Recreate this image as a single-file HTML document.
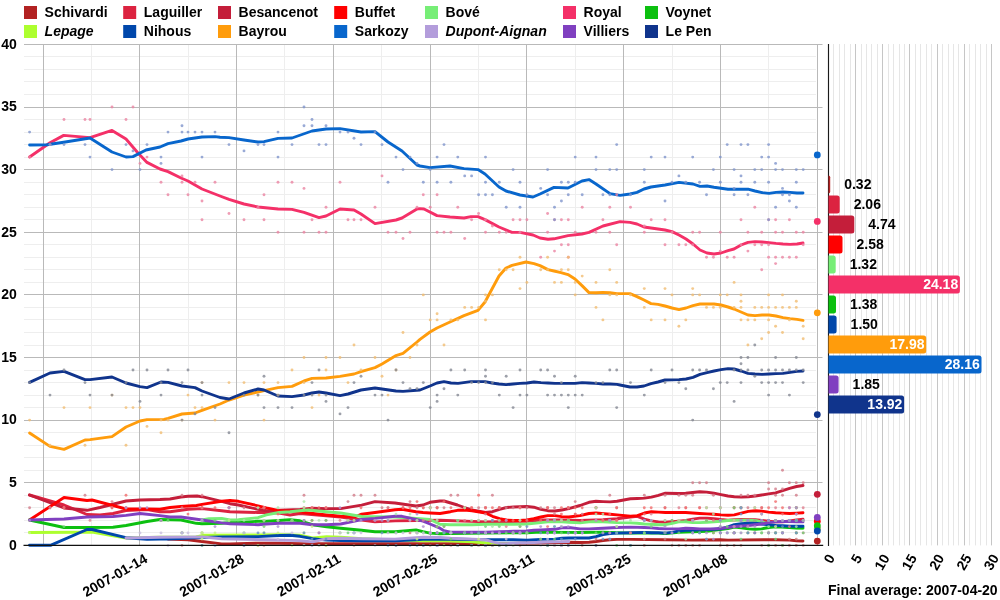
<!DOCTYPE html>
<html lang="en"><head><meta charset="utf-8"><title>Opinion polling for the 2007 French presidential election</title>
<style>html,body{margin:0;padding:0;background:#fff}body{width:1000px;height:600px;overflow:hidden}svg{display:block;will-change:transform}text{font-family:"Liberation Sans", Arial, Helvetica, sans-serif;font-weight:bold;font-size:14px;fill:#000}.gM{stroke:#b9b9b9;stroke-width:1}.gm{stroke:#eeeeee;stroke-width:1}.ln{fill:none;stroke-width:2.9;stroke-linejoin:round;stroke-linecap:round}.lg{font-size:14px}.it{font-style:italic}.w{fill:#fff}</style></head><body>
<svg width="1000" height="600" viewBox="0 0 1000 600">
<rect width="1000" height="600" fill="#fff"/>
<g id="legend">
<rect x="24.0" y="6.0" width="13" height="13" fill="#b22222"/>
<text class="lg" x="44.6" y="16.6">Schivardi</text>
<rect x="123.2" y="6.0" width="13" height="13" fill="#dc2340"/>
<text class="lg" x="143.8" y="16.6">Laguiller</text>
<rect x="218.0" y="6.0" width="13" height="13" fill="#c41e3a"/>
<text class="lg" x="238.6" y="16.6">Besancenot</text>
<rect x="334.2" y="6.0" width="13" height="13" fill="#ff0000"/>
<text class="lg" x="354.8" y="16.6">Buffet</text>
<rect x="425.0" y="6.0" width="13" height="13" fill="#77ee77"/>
<text class="lg" x="445.6" y="16.6">Bové</text>
<rect x="563.0" y="6.0" width="13" height="13" fill="#f43068"/>
<text class="lg" x="583.6" y="16.6">Royal</text>
<rect x="645.0" y="6.0" width="13" height="13" fill="#0cc010"/>
<text class="lg" x="665.6" y="16.6">Voynet</text>
<rect x="24.0" y="25.0" width="13" height="13" fill="#adff2f"/>
<text class="lg it" x="44.6" y="35.6">Lepage</text>
<rect x="123.2" y="25.0" width="13" height="13" fill="#0047ab"/>
<text class="lg" x="143.8" y="35.6">Nihous</text>
<rect x="218.0" y="25.0" width="13" height="13" fill="#ff9c0c"/>
<text class="lg" x="238.6" y="35.6">Bayrou</text>
<rect x="334.2" y="25.0" width="13" height="13" fill="#0866cc"/>
<text class="lg" x="354.8" y="35.6">Sarkozy</text>
<rect x="425.0" y="25.0" width="13" height="13" fill="#b39ddb"/>
<text class="lg it" x="445.6" y="35.6">Dupont-Aignan</text>
<rect x="563.0" y="25.0" width="13" height="13" fill="#8040c0"/>
<text class="lg" x="583.6" y="35.6">Villiers</text>
<rect x="645.0" y="25.0" width="13" height="13" fill="#10348c"/>
<text class="lg" x="665.6" y="35.6">Le Pen</text>
</g>
<g id="grid">
<line class="gm" x1="24" x2="816" y1="532.5" y2="532.5"/>
<line class="gm" x1="24" x2="816" y1="520.5" y2="520.5"/>
<line class="gm" x1="24" x2="816" y1="507.5" y2="507.5"/>
<line class="gm" x1="24" x2="816" y1="495.5" y2="495.5"/>
<line class="gm" x1="24" x2="816" y1="470.5" y2="470.5"/>
<line class="gm" x1="24" x2="816" y1="457.5" y2="457.5"/>
<line class="gm" x1="24" x2="816" y1="445.5" y2="445.5"/>
<line class="gm" x1="24" x2="816" y1="432.5" y2="432.5"/>
<line class="gm" x1="24" x2="816" y1="407.5" y2="407.5"/>
<line class="gm" x1="24" x2="816" y1="395.5" y2="395.5"/>
<line class="gm" x1="24" x2="816" y1="382.5" y2="382.5"/>
<line class="gm" x1="24" x2="816" y1="370.5" y2="370.5"/>
<line class="gm" x1="24" x2="816" y1="345.5" y2="345.5"/>
<line class="gm" x1="24" x2="816" y1="332.5" y2="332.5"/>
<line class="gm" x1="24" x2="816" y1="319.5" y2="319.5"/>
<line class="gm" x1="24" x2="816" y1="307.5" y2="307.5"/>
<line class="gm" x1="24" x2="816" y1="282.5" y2="282.5"/>
<line class="gm" x1="24" x2="816" y1="269.5" y2="269.5"/>
<line class="gm" x1="24" x2="816" y1="257.5" y2="257.5"/>
<line class="gm" x1="24" x2="816" y1="244.5" y2="244.5"/>
<line class="gm" x1="24" x2="816" y1="219.5" y2="219.5"/>
<line class="gm" x1="24" x2="816" y1="207.5" y2="207.5"/>
<line class="gm" x1="24" x2="816" y1="194.5" y2="194.5"/>
<line class="gm" x1="24" x2="816" y1="182.5" y2="182.5"/>
<line class="gm" x1="24" x2="816" y1="157.5" y2="157.5"/>
<line class="gm" x1="24" x2="816" y1="144.5" y2="144.5"/>
<line class="gm" x1="24" x2="816" y1="132.5" y2="132.5"/>
<line class="gm" x1="24" x2="816" y1="119.5" y2="119.5"/>
<line class="gm" x1="24" x2="816" y1="94.5" y2="94.5"/>
<line class="gm" x1="24" x2="816" y1="81.5" y2="81.5"/>
<line class="gm" x1="24" x2="816" y1="69.5" y2="69.5"/>
<line class="gm" x1="24" x2="816" y1="56.5" y2="56.5"/>
<line class="gm" x1="91.5" x2="91.5" y1="44" y2="545.4"/>
<line class="gm" x1="188.5" x2="188.5" y1="44" y2="545.4"/>
<line class="gm" x1="284.5" x2="284.5" y1="44" y2="545.4"/>
<line class="gm" x1="381.5" x2="381.5" y1="44" y2="545.4"/>
<line class="gm" x1="478.5" x2="478.5" y1="44" y2="545.4"/>
<line class="gm" x1="575.5" x2="575.5" y1="44" y2="545.4"/>
<line class="gm" x1="672.5" x2="672.5" y1="44" y2="545.4"/>
<line class="gm" x1="768.5" x2="768.5" y1="44" y2="545.4"/>
<line class="gM" x1="24" x2="822.5" y1="482.5" y2="482.5"/>
<line class="gM" x1="24" x2="822.5" y1="420.5" y2="420.5"/>
<line class="gM" x1="24" x2="822.5" y1="357.5" y2="357.5"/>
<line class="gM" x1="24" x2="822.5" y1="294.5" y2="294.5"/>
<line class="gM" x1="24" x2="822.5" y1="232.5" y2="232.5"/>
<line class="gM" x1="24" x2="822.5" y1="169.5" y2="169.5"/>
<line class="gM" x1="24" x2="822.5" y1="107.5" y2="107.5"/>
<line class="gM" x1="24" x2="822.5" y1="44.5" y2="44.5"/>
<line class="gM" x1="43.5" x2="43.5" y1="44" y2="545.4"/>
<line class="gM" x1="139.5" x2="139.5" y1="44" y2="545.4"/>
<line class="gM" x1="236.5" x2="236.5" y1="44" y2="545.4"/>
<line class="gM" x1="333.5" x2="333.5" y1="44" y2="545.4"/>
<line class="gM" x1="430.5" x2="430.5" y1="44" y2="545.4"/>
<line class="gM" x1="526.5" x2="526.5" y1="44" y2="545.4"/>
<line class="gM" x1="623.5" x2="623.5" y1="44" y2="545.4"/>
<line class="gM" x1="720.5" x2="720.5" y1="44" y2="545.4"/>
<line class="gM" x1="817.5" x2="817.5" y1="44" y2="545.4"/>
</g>
<g id="rgrid">
<line class="gm" x1="833.5" x2="833.5" y1="44" y2="545.4" style="stroke:#e6e6e6"/>
<line class="gm" x1="839.5" x2="839.5" y1="44" y2="545.4" style="stroke:#e6e6e6"/>
<line class="gm" x1="844.5" x2="844.5" y1="44" y2="545.4" style="stroke:#e6e6e6"/>
<line class="gm" x1="850.5" x2="850.5" y1="44" y2="545.4" style="stroke:#e6e6e6"/>
<line class="gm" x1="861.5" x2="861.5" y1="44" y2="545.4" style="stroke:#e6e6e6"/>
<line class="gm" x1="866.5" x2="866.5" y1="44" y2="545.4" style="stroke:#e6e6e6"/>
<line class="gm" x1="871.5" x2="871.5" y1="44" y2="545.4" style="stroke:#e6e6e6"/>
<line class="gm" x1="877.5" x2="877.5" y1="44" y2="545.4" style="stroke:#e6e6e6"/>
<line class="gm" x1="888.5" x2="888.5" y1="44" y2="545.4" style="stroke:#e6e6e6"/>
<line class="gm" x1="893.5" x2="893.5" y1="44" y2="545.4" style="stroke:#e6e6e6"/>
<line class="gm" x1="899.5" x2="899.5" y1="44" y2="545.4" style="stroke:#e6e6e6"/>
<line class="gm" x1="904.5" x2="904.5" y1="44" y2="545.4" style="stroke:#e6e6e6"/>
<line class="gm" x1="915.5" x2="915.5" y1="44" y2="545.4" style="stroke:#e6e6e6"/>
<line class="gm" x1="920.5" x2="920.5" y1="44" y2="545.4" style="stroke:#e6e6e6"/>
<line class="gm" x1="926.5" x2="926.5" y1="44" y2="545.4" style="stroke:#e6e6e6"/>
<line class="gm" x1="931.5" x2="931.5" y1="44" y2="545.4" style="stroke:#e6e6e6"/>
<line class="gm" x1="942.5" x2="942.5" y1="44" y2="545.4" style="stroke:#e6e6e6"/>
<line class="gm" x1="948.5" x2="948.5" y1="44" y2="545.4" style="stroke:#e6e6e6"/>
<line class="gm" x1="953.5" x2="953.5" y1="44" y2="545.4" style="stroke:#e6e6e6"/>
<line class="gm" x1="958.5" x2="958.5" y1="44" y2="545.4" style="stroke:#e6e6e6"/>
<line class="gm" x1="969.5" x2="969.5" y1="44" y2="545.4" style="stroke:#e6e6e6"/>
<line class="gm" x1="975.5" x2="975.5" y1="44" y2="545.4" style="stroke:#e6e6e6"/>
<line class="gm" x1="980.5" x2="980.5" y1="44" y2="545.4" style="stroke:#e6e6e6"/>
<line class="gm" x1="986.5" x2="986.5" y1="44" y2="545.4" style="stroke:#e6e6e6"/>
<line class="gM" x1="855.5" x2="855.5" y1="44" y2="545.4" style="stroke:#c6c6c6"/>
<line class="gM" x1="882.5" x2="882.5" y1="44" y2="545.4" style="stroke:#c6c6c6"/>
<line class="gM" x1="909.5" x2="909.5" y1="44" y2="545.4" style="stroke:#c6c6c6"/>
<line class="gM" x1="937.5" x2="937.5" y1="44" y2="545.4" style="stroke:#c6c6c6"/>
<line class="gM" x1="964.5" x2="964.5" y1="44" y2="545.4" style="stroke:#c6c6c6"/>
<line class="gM" x1="991.5" x2="991.5" y1="44" y2="545.4" style="stroke:#c6c6c6"/>
</g>
<g id="lines">
<path class="ln" stroke="#b22222" d="M168.0 539.0 L188.0 539.7 L202.0 541.5 L221.6 543.9 L230.0 544.0 L238.4 543.6 L258.0 543.2 L279.0 543.2 L300.0 543.6 L440.0 543.6 L485.5 543.6 L540.0 543.0 L568.8 542.3 L580.0 542.5 L589.0 542.2 L596.0 541.5 L603.0 540.5 L610.0 539.7 L617.0 539.4 L630.4 539.4 L665.4 539.7 L692.7 540.1 L720.0 539.7 L728.0 540.1 L775.6 539.7 L789.6 540.1 L796.6 540.8 L803.0 541.0"/>
<path class="ln" stroke="#dc2340" d="M29.5 495.0 L64.0 505.0 L87.0 514.5 L100.0 515.0 L113.0 513.5 L126.0 510.5 L147.0 509.5 L160.0 511.7 L170.0 511.7 L181.0 510.3 L188.0 509.3 L202.0 508.6 L221.6 510.7 L230.0 511.7 L238.4 512.0 L258.0 512.5 L266.4 512.5 L279.0 513.0 L290.0 515.0 L300.0 513.5 L340.6 517.0 L361.6 520.0 L375.0 521.9 L395.0 520.9 L416.0 520.5 L423.0 520.5 L440.0 520.2 L485.5 521.9 L526.8 521.2 L540.8 520.0 L561.8 520.0 L580.0 520.5 L603.0 519.8 L610.0 519.1 L617.0 518.7 L630.4 517.0 L637.4 516.3 L644.4 519.1 L651.4 520.9 L658.4 521.9 L665.4 522.3 L678.7 521.2 L685.7 520.5 L692.7 519.1 L699.7 518.1 L707.0 518.1 L714.0 518.7 L721.0 519.5 L728.0 520.1 L734.3 519.8 L741.3 519.5 L755.3 519.8 L761.6 520.5 L768.6 521.2 L775.6 521.9 L782.6 521.9 L789.6 521.0 L796.6 520.0 L803.0 519.2"/>
<path class="ln" stroke="#c41e3a" d="M29.5 495.0 L64.0 508.0 L87.0 510.3 L100.0 507.5 L126.0 501.0 L140.0 500.0 L160.0 499.5 L170.0 499.0 L181.0 497.0 L188.0 496.3 L197.0 496.0 L202.0 496.7 L221.6 501.3 L230.0 503.7 L238.4 505.0 L258.0 509.3 L266.4 510.7 L300.0 509.5 L312.6 508.3 L326.6 508.6 L340.6 508.6 L361.6 505.1 L375.0 501.6 L395.0 503.0 L416.0 506.0 L423.0 505.0 L430.0 502.3 L440.0 501.0 L444.0 501.0 L457.5 505.0 L464.5 507.5 L472.0 510.0 L485.5 512.5 L492.5 511.7 L499.5 509.3 L506.5 507.5 L513.5 507.0 L526.8 506.5 L533.8 507.2 L540.8 509.3 L547.8 510.7 L554.8 511.0 L561.8 510.0 L568.8 508.6 L580.0 505.5 L589.0 502.3 L596.0 501.3 L603.0 501.6 L610.0 501.9 L617.0 501.3 L630.4 498.8 L637.4 498.5 L644.4 498.1 L651.4 497.1 L658.4 495.3 L665.4 493.2 L678.7 493.5 L685.7 493.2 L692.7 492.5 L699.7 491.8 L706.7 492.1 L714.0 493.2 L721.0 494.6 L728.0 496.0 L734.3 496.7 L741.3 497.1 L748.3 496.7 L755.3 496.0 L761.6 495.0 L768.6 493.9 L775.6 492.9 L782.6 490.7 L789.6 488.3 L796.6 486.5 L803.0 485.5"/>
<path class="ln" stroke="#ff0000" d="M29.5 520.0 L64.0 497.5 L87.0 500.5 L92.0 500.0 L126.0 509.0 L147.0 509.0 L160.0 509.3 L170.0 507.5 L181.0 506.5 L196.4 505.5 L202.0 504.4 L221.6 501.3 L230.0 500.5 L238.4 501.3 L258.0 505.8 L266.4 507.9 L279.0 510.7 L290.0 511.0 L300.0 511.7 L308.4 513.0 L326.6 515.0 L340.6 516.3 L356.0 516.5 L361.6 514.2 L375.0 512.5 L395.0 509.7 L402.0 509.3 L416.0 511.7 L423.0 512.5 L430.0 513.0 L440.0 513.5 L450.5 511.7 L457.5 510.3 L464.5 510.0 L472.0 510.7 L485.5 513.0 L492.5 516.3 L499.5 518.7 L506.5 520.0 L513.5 520.5 L519.8 520.5 L526.8 520.0 L533.8 518.7 L540.8 517.0 L547.8 515.6 L554.8 515.6 L561.8 516.6 L568.8 517.0 L580.0 515.6 L589.0 513.5 L596.0 513.0 L610.0 514.2 L617.0 514.9 L630.4 516.3 L637.4 515.6 L644.4 513.0 L651.4 511.7 L658.4 512.1 L665.4 512.5 L678.7 512.5 L685.7 512.5 L692.7 513.0 L699.7 513.5 L707.0 513.9 L714.0 514.2 L721.0 514.9 L728.0 515.3 L734.3 514.9 L741.3 513.1 L748.3 511.4 L755.3 510.7 L761.6 511.1 L768.6 512.1 L775.6 512.8 L782.6 513.1 L789.6 513.5 L796.6 513.1 L803.0 512.8"/>
<path class="ln" stroke="#77ee77" d="M202.0 520.0 L209.0 518.7 L221.6 518.4 L230.0 520.0 L238.4 519.8 L258.0 517.7 L266.4 514.9 L279.0 512.5 L290.0 511.7 L300.0 510.7 L308.4 510.0 L326.6 511.7 L340.6 513.0 L361.6 516.5 L375.0 516.6 L395.0 517.0 L416.0 518.4 L430.0 519.5 L440.0 524.3 L450.5 524.7 L472.0 524.7 L485.5 524.3 L513.5 524.3 L526.8 524.0 L540.8 522.6 L547.8 521.9 L561.8 521.9 L568.8 522.3 L580.0 522.9 L589.0 521.9 L596.0 521.5 L603.0 521.9 L617.0 522.6 L630.4 522.9 L637.4 523.3 L644.4 524.0 L651.4 524.3 L658.4 524.7 L665.4 524.7 L672.4 523.3 L678.7 521.9 L685.7 521.9 L692.7 522.6 L699.7 522.6 L707.0 522.3 L714.0 521.9 L721.0 521.2 L728.0 520.5 L734.3 520.1 L748.3 520.1 L755.3 520.5 L761.6 521.9 L768.6 524.0 L775.6 525.7 L782.6 526.8 L789.6 527.5 L796.6 528.2 L803.0 528.5"/>
<path class="ln" stroke="#f43068" d="M29.6 157.0 L50.0 142.8 L63.7 135.4 L90.0 137.6 L112.0 130.4 L126.0 139.0 L138.0 153.0 L147.0 162.4 L160.0 169.0 L168.0 171.6 L181.0 178.0 L188.0 181.0 L202.0 189.0 L220.0 196.0 L229.0 199.4 L244.0 204.0 L258.0 207.0 L278.0 209.0 L292.0 209.4 L304.0 212.4 L319.0 217.6 L326.0 216.0 L340.0 209.0 L354.0 210.0 L361.0 214.0 L375.0 223.6 L396.0 220.0 L402.0 218.0 L417.0 209.0 L420.0 208.6 L424.0 209.0 L437.0 215.6 L450.0 217.0 L464.0 218.0 L471.0 216.6 L478.0 216.6 L485.0 219.6 L499.0 227.0 L512.0 232.4 L520.0 232.4 L533.0 235.0 L540.0 238.0 L548.0 239.2 L554.0 238.8 L568.0 235.6 L582.0 234.0 L589.0 232.4 L603.0 226.0 L620.0 221.6 L630.0 222.4 L637.0 224.0 L644.0 227.0 L651.0 228.0 L665.0 230.0 L672.0 231.6 L679.0 235.0 L686.0 239.0 L693.0 244.0 L700.0 250.0 L707.0 253.0 L714.0 254.0 L721.0 253.0 L728.0 250.6 L734.0 249.0 L741.0 245.0 L748.0 242.4 L755.0 241.6 L762.0 242.0 L769.0 242.6 L776.0 243.4 L783.0 244.0 L790.0 244.4 L797.0 244.0 L803.0 243.0"/>
<path class="ln" stroke="#0cc010" d="M29.5 520.0 L64.0 527.5 L87.0 527.5 L113.0 527.3 L126.0 525.5 L147.0 521.5 L160.0 519.5 L170.0 519.8 L181.0 520.0 L196.4 523.3 L202.0 523.7 L221.6 523.3 L230.0 522.6 L238.4 522.6 L258.0 521.2 L266.4 521.2 L279.0 520.5 L290.0 519.8 L300.0 520.8 L312.6 524.7 L326.6 526.8 L340.6 528.2 L361.6 530.3 L375.0 531.7 L395.0 531.7 L416.0 529.9 L423.0 531.7 L430.0 533.1 L440.0 533.8 L450.5 533.5 L485.5 533.1 L526.8 532.7 L540.8 532.1 L568.8 532.4 L580.0 532.5 L603.0 532.1 L617.0 532.7 L630.4 533.1 L644.4 532.7 L658.4 533.1 L665.4 533.5 L678.7 532.4 L692.7 531.7 L706.7 531.3 L714.0 530.3 L728.0 528.5 L734.3 527.1 L741.3 527.9 L748.3 528.9 L755.3 529.3 L761.6 528.9 L768.6 527.5 L775.6 526.8 L782.6 527.1 L789.6 527.5 L796.6 527.7 L803.0 527.8"/>
<path class="ln" stroke="#adff2f" d="M29.5 532.5 L80.0 532.3 L92.0 532.0 L126.0 538.0 L160.0 537.2 L196.0 536.9 L203.0 535.3 L258.0 535.0 L279.0 534.8 L300.0 535.2 L312.6 538.0 L326.6 536.6 L340.6 537.3 L361.6 538.7 L395.0 540.0 L423.0 540.8 L440.0 540.5 L472.0 541.9 L485.5 543.0 L499.5 543.6 L513.5 543.6"/>
<path class="ln" stroke="#0047ab" d="M29.5 545.2 L51.0 545.2 L87.0 529.5 L92.0 529.5 L126.0 537.7 L147.0 539.2 L160.0 539.0 L168.0 539.0 L202.0 537.5 L221.6 536.9 L258.0 536.6 L279.0 535.5 L290.0 535.2 L300.0 536.3 L312.6 538.7 L326.6 540.1 L340.6 540.5 L361.6 540.8 L395.0 540.8 L416.0 539.7 L423.0 539.4 L440.0 539.0 L489.0 539.7 L513.5 539.7 L526.8 540.1 L540.8 539.4 L554.8 539.1 L561.8 538.3 L568.8 538.0 L580.0 538.0 L589.0 538.0 L596.0 536.6 L603.0 534.5 L610.0 533.5 L617.0 533.1 L630.4 532.7 L644.4 532.4 L651.4 532.7 L658.4 532.7 L665.4 533.1 L672.4 532.4 L678.7 531.0 L685.7 530.3 L692.7 530.3 L699.7 529.9 L707.0 529.6 L714.0 529.3 L721.0 528.9 L728.0 526.8 L734.3 524.7 L741.3 523.7 L748.3 523.3 L755.3 523.3 L761.6 524.0 L768.6 524.7 L775.6 525.4 L782.6 525.7 L789.6 526.1 L796.6 526.2 L803.0 526.2"/>
<path class="ln" stroke="#ff9c0c" d="M29.6 433.0 L50.0 446.4 L64.0 449.4 L85.0 440.0 L90.0 439.6 L112.0 436.6 L126.0 427.0 L140.0 421.0 L147.0 419.6 L164.0 419.4 L168.0 418.4 L182.0 414.0 L195.0 413.0 L202.0 410.4 L220.0 404.0 L229.0 400.0 L244.0 395.0 L258.0 392.0 L264.0 390.6 L278.0 387.6 L292.0 386.4 L304.0 381.0 L312.0 378.4 L326.0 378.0 L340.0 376.4 L354.0 374.0 L361.0 371.6 L375.0 367.6 L382.0 364.0 L396.0 355.6 L403.0 353.4 L417.0 342.0 L420.0 339.4 L430.0 332.0 L437.0 328.0 L450.0 322.0 L464.0 315.6 L478.0 310.4 L485.0 302.0 L492.0 289.0 L499.0 276.0 L506.0 268.0 L512.0 265.4 L526.0 262.0 L534.0 263.6 L540.0 265.6 L548.0 269.6 L554.0 271.0 L561.0 272.6 L568.0 274.6 L575.0 279.0 L582.0 285.6 L589.0 292.6 L596.0 292.8 L603.0 292.4 L610.0 292.8 L617.0 293.6 L620.0 293.6 L630.0 293.6 L637.0 296.6 L644.0 300.0 L651.0 303.6 L658.0 304.4 L665.0 306.0 L672.0 308.0 L679.0 309.6 L686.0 308.0 L693.0 305.6 L700.0 304.0 L707.0 304.0 L714.0 304.0 L721.0 305.0 L728.0 307.0 L734.0 309.0 L741.0 312.0 L748.0 315.0 L755.0 315.6 L762.0 315.0 L769.0 315.0 L776.0 316.0 L783.0 317.6 L790.0 318.6 L797.0 319.4 L803.0 320.4"/>
<path class="ln" stroke="#0866cc" d="M29.6 145.0 L47.0 144.8 L63.7 142.3 L90.0 138.0 L112.0 152.0 L126.0 157.0 L133.0 156.6 L146.0 150.0 L160.0 147.0 L168.0 143.6 L181.0 141.0 L188.0 139.0 L202.0 137.0 L215.0 136.6 L220.0 137.2 L229.0 137.6 L244.0 140.0 L258.0 142.0 L264.0 141.6 L278.0 138.4 L292.0 138.0 L312.0 131.0 L326.0 129.0 L340.0 128.6 L361.0 132.0 L375.0 131.6 L388.0 142.0 L402.0 151.0 L417.0 165.0 L420.0 166.0 L430.0 167.6 L450.0 166.0 L464.0 168.6 L478.0 169.6 L485.0 174.0 L499.0 187.0 L506.0 191.0 L520.0 195.0 L533.0 197.0 L540.0 194.0 L554.0 187.4 L568.0 188.0 L582.0 181.0 L589.0 179.6 L596.0 184.0 L610.0 193.6 L620.0 195.4 L630.0 194.0 L637.0 192.4 L644.0 189.0 L651.0 187.0 L665.0 185.0 L679.0 182.4 L693.0 184.0 L700.0 186.4 L707.0 186.0 L714.0 187.2 L728.0 189.2 L748.0 189.2 L755.0 191.0 L762.0 192.6 L769.0 193.4 L776.0 192.4 L783.0 192.0 L790.0 192.4 L797.0 193.0 L803.0 193.0"/>
<path class="ln" stroke="#b39ddb" d="M126.0 538.0 L160.0 537.2 L202.0 536.9 L221.6 538.7 L300.0 540.6 L312.6 541.9 L326.6 538.7 L340.6 538.3 L361.6 538.7 L395.0 539.1 L416.0 537.7 L423.0 537.3 L440.0 537.5 L450.5 538.3 L472.0 539.1 L485.5 539.7 L492.5 541.9 L499.5 543.6 L506.5 543.6 L526.8 542.9 L540.8 542.2 L554.8 541.9 L568.8 541.5"/>
<path class="ln" stroke="#8040c0" d="M29.5 520.0 L64.0 519.0 L87.0 517.0 L113.0 516.5 L126.0 515.4 L140.0 513.5 L160.0 515.6 L170.0 517.0 L181.0 517.0 L202.0 520.0 L221.6 522.9 L230.0 523.7 L238.4 524.0 L258.0 524.7 L266.4 524.0 L279.0 523.3 L290.0 523.3 L300.0 523.3 L312.6 524.7 L326.6 524.7 L340.6 524.0 L356.0 520.9 L361.6 519.5 L375.0 518.4 L395.0 516.3 L402.0 516.3 L416.0 519.5 L423.0 521.2 L430.0 524.0 L440.0 528.2 L444.0 530.7 L450.5 532.1 L472.0 532.1 L485.5 532.1 L499.5 531.7 L513.5 531.3 L526.8 531.0 L533.8 530.3 L540.8 529.9 L554.8 529.3 L561.8 527.9 L568.8 527.5 L580.0 528.9 L589.0 528.9 L603.0 528.2 L617.0 527.5 L630.4 527.1 L644.4 527.5 L651.4 527.9 L658.4 528.5 L665.4 528.9 L678.7 528.9 L685.7 528.2 L692.7 528.5 L699.7 528.9 L714.0 528.9 L721.0 528.2 L728.0 527.5 L734.3 526.5 L748.3 525.5 L761.6 524.0 L768.6 522.6 L775.6 521.9 L782.6 521.5 L789.6 521.5 L796.6 521.7 L803.0 521.9"/>
<path class="ln" stroke="#10348c" d="M29.6 382.4 L50.0 373.0 L64.0 371.4 L85.0 379.6 L90.0 379.6 L112.0 377.0 L126.0 383.0 L140.0 386.6 L147.0 387.6 L161.0 382.0 L168.0 382.4 L182.0 386.0 L195.0 387.6 L202.0 391.0 L220.0 397.5 L229.0 399.0 L244.0 393.0 L258.0 389.0 L264.0 390.0 L278.0 396.0 L292.0 396.6 L304.0 395.0 L312.0 393.0 L319.0 392.0 L326.0 393.0 L340.0 395.6 L348.0 394.0 L361.0 390.0 L375.0 388.0 L382.0 389.0 L396.0 391.0 L403.0 391.4 L420.0 390.0 L430.0 386.0 L437.0 383.0 L444.0 381.6 L451.0 383.0 L458.0 383.4 L471.0 381.6 L485.0 381.6 L492.0 383.0 L499.0 384.0 L506.0 384.6 L513.0 384.0 L520.0 383.4 L527.0 383.0 L534.0 382.0 L541.0 382.6 L548.0 383.0 L555.0 383.4 L561.0 383.4 L568.0 383.4 L575.0 383.4 L582.0 382.6 L589.0 383.0 L596.0 383.4 L603.0 384.0 L610.0 384.0 L617.0 384.4 L620.0 385.0 L630.0 387.0 L637.0 387.0 L644.0 386.0 L651.0 383.6 L658.0 382.0 L665.0 380.0 L679.0 379.6 L686.0 379.0 L693.0 377.4 L700.0 374.4 L707.0 372.6 L714.0 371.0 L721.0 369.6 L728.0 368.6 L734.0 369.0 L741.0 371.0 L748.0 373.4 L755.0 374.0 L762.0 374.4 L769.0 374.0 L776.0 373.6 L783.0 373.4 L790.0 372.4 L797.0 371.4 L803.0 371.0"/>
</g>
<g id="dots" fill-opacity="0.8">
<g fill="#c97e7e"><circle cx="182.0" cy="545.4" r="1.45"/><circle cx="182.0" cy="532.9" r="1.45"/><circle cx="202.0" cy="532.9" r="1.45"/><circle cx="244.0" cy="545.4" r="1.45"/><circle cx="258.0" cy="545.4" r="1.45"/><circle cx="264.0" cy="545.4" r="1.45"/><circle cx="278.0" cy="520.4" r="1.45"/><circle cx="319.0" cy="532.9" r="1.45"/><circle cx="326.0" cy="545.4" r="1.45"/><circle cx="354.0" cy="545.4" r="1.45"/><circle cx="396.0" cy="545.4" r="1.45"/><circle cx="410.0" cy="532.9" r="1.45"/><circle cx="417.0" cy="532.9" r="1.45"/><circle cx="423.3" cy="545.4" r="1.45"/><circle cx="430.2" cy="545.4" r="1.45"/><circle cx="437.1" cy="545.4" r="1.45"/><circle cx="437.1" cy="532.9" r="1.45"/><circle cx="450.9" cy="545.4" r="1.45"/><circle cx="457.8" cy="545.4" r="1.45"/><circle cx="464.7" cy="532.9" r="1.45"/><circle cx="471.6" cy="545.4" r="1.45"/><circle cx="478.6" cy="545.4" r="1.45"/><circle cx="485.5" cy="545.4" r="1.45"/><circle cx="492.4" cy="545.4" r="1.45"/><circle cx="499.3" cy="545.4" r="1.45"/><circle cx="513.1" cy="532.9" r="1.45"/><circle cx="520.0" cy="532.9" r="1.45"/><circle cx="520.0" cy="545.4" r="1.45"/><circle cx="526.9" cy="532.9" r="1.45"/><circle cx="540.7" cy="539.1" r="1.45"/><circle cx="547.6" cy="532.9" r="1.45"/><circle cx="547.6" cy="545.4" r="1.45"/><circle cx="554.5" cy="532.9" r="1.45"/><circle cx="554.5" cy="545.4" r="1.45"/><circle cx="561.4" cy="545.4" r="1.45"/><circle cx="568.3" cy="545.4" r="1.45"/><circle cx="568.3" cy="532.9" r="1.45"/><circle cx="575.2" cy="532.9" r="1.45"/><circle cx="582.2" cy="545.4" r="1.45"/><circle cx="596.0" cy="545.4" r="1.45"/><circle cx="596.0" cy="539.1" r="1.45"/><circle cx="609.8" cy="539.1" r="1.45"/><circle cx="616.7" cy="526.6" r="1.45"/><circle cx="630.5" cy="532.9" r="1.45"/><circle cx="644.3" cy="545.4" r="1.45"/><circle cx="644.3" cy="539.1" r="1.45"/><circle cx="665.0" cy="539.1" r="1.45"/><circle cx="665.0" cy="532.9" r="1.45"/><circle cx="672.0" cy="545.4" r="1.45"/><circle cx="678.9" cy="545.4" r="1.45"/><circle cx="685.8" cy="545.4" r="1.45"/><circle cx="692.7" cy="545.4" r="1.45"/><circle cx="699.6" cy="545.4" r="1.45"/><circle cx="706.5" cy="539.1" r="1.45"/><circle cx="720.3" cy="532.9" r="1.45"/><circle cx="720.3" cy="545.4" r="1.45"/><circle cx="727.2" cy="545.4" r="1.45"/><circle cx="734.1" cy="545.4" r="1.45"/><circle cx="741.0" cy="545.4" r="1.45"/><circle cx="747.9" cy="532.9" r="1.45"/><circle cx="754.8" cy="532.9" r="1.45"/><circle cx="761.7" cy="532.9" r="1.45"/><circle cx="761.7" cy="545.4" r="1.45"/><circle cx="768.6" cy="545.4" r="1.45"/><circle cx="768.6" cy="532.9" r="1.45"/><circle cx="775.6" cy="532.9" r="1.45"/><circle cx="775.6" cy="545.4" r="1.45"/><circle cx="782.5" cy="532.9" r="1.45"/><circle cx="782.5" cy="545.4" r="1.45"/><circle cx="789.4" cy="539.1" r="1.45"/><circle cx="789.4" cy="545.4" r="1.45"/><circle cx="796.3" cy="532.9" r="1.45"/><circle cx="796.3" cy="545.4" r="1.45"/><circle cx="796.3" cy="539.1" r="1.45"/><circle cx="803.2" cy="545.4" r="1.45"/></g>
<g fill="#df7e8e"><circle cx="50.0" cy="507.8" r="1.45"/><circle cx="64.0" cy="507.8" r="1.45"/><circle cx="90.0" cy="520.4" r="1.45"/><circle cx="112.0" cy="501.6" r="1.45"/><circle cx="126.0" cy="507.8" r="1.45"/><circle cx="182.0" cy="507.8" r="1.45"/><circle cx="202.0" cy="507.8" r="1.45"/><circle cx="202.0" cy="495.3" r="1.45"/><circle cx="264.0" cy="507.8" r="1.45"/><circle cx="304.0" cy="520.4" r="1.45"/><circle cx="326.0" cy="507.8" r="1.45"/><circle cx="340.0" cy="520.4" r="1.45"/><circle cx="348.0" cy="520.4" r="1.45"/><circle cx="375.0" cy="520.4" r="1.45"/><circle cx="388.0" cy="507.8" r="1.45"/><circle cx="417.0" cy="520.4" r="1.45"/><circle cx="423.3" cy="520.4" r="1.45"/><circle cx="430.2" cy="520.4" r="1.45"/><circle cx="437.1" cy="507.8" r="1.45"/><circle cx="437.1" cy="526.6" r="1.45"/><circle cx="444.0" cy="526.6" r="1.45"/><circle cx="450.9" cy="532.9" r="1.45"/><circle cx="457.8" cy="520.4" r="1.45"/><circle cx="464.7" cy="520.4" r="1.45"/><circle cx="471.6" cy="507.8" r="1.45"/><circle cx="478.6" cy="520.4" r="1.45"/><circle cx="485.5" cy="520.4" r="1.45"/><circle cx="485.5" cy="507.8" r="1.45"/><circle cx="492.4" cy="520.4" r="1.45"/><circle cx="499.3" cy="507.8" r="1.45"/><circle cx="506.2" cy="526.6" r="1.45"/><circle cx="520.0" cy="526.6" r="1.45"/><circle cx="526.9" cy="520.4" r="1.45"/><circle cx="547.6" cy="507.8" r="1.45"/><circle cx="547.6" cy="520.4" r="1.45"/><circle cx="554.5" cy="520.4" r="1.45"/><circle cx="561.4" cy="520.4" r="1.45"/><circle cx="568.3" cy="507.8" r="1.45"/><circle cx="568.3" cy="520.4" r="1.45"/><circle cx="575.2" cy="532.9" r="1.45"/><circle cx="582.2" cy="520.4" r="1.45"/><circle cx="596.0" cy="507.8" r="1.45"/><circle cx="596.0" cy="520.4" r="1.45"/><circle cx="602.9" cy="520.4" r="1.45"/><circle cx="609.8" cy="520.4" r="1.45"/><circle cx="609.8" cy="532.9" r="1.45"/><circle cx="616.7" cy="520.4" r="1.45"/><circle cx="630.5" cy="532.9" r="1.45"/><circle cx="644.3" cy="520.4" r="1.45"/><circle cx="651.2" cy="514.1" r="1.45"/><circle cx="665.0" cy="520.4" r="1.45"/><circle cx="678.9" cy="507.8" r="1.45"/><circle cx="685.8" cy="507.8" r="1.45"/><circle cx="692.7" cy="520.4" r="1.45"/><circle cx="699.6" cy="507.8" r="1.45"/><circle cx="706.5" cy="520.4" r="1.45"/><circle cx="713.4" cy="520.4" r="1.45"/><circle cx="720.3" cy="507.8" r="1.45"/><circle cx="734.1" cy="526.6" r="1.45"/><circle cx="734.1" cy="532.9" r="1.45"/><circle cx="741.0" cy="507.8" r="1.45"/><circle cx="741.0" cy="520.4" r="1.45"/><circle cx="747.9" cy="526.6" r="1.45"/><circle cx="754.8" cy="532.9" r="1.45"/><circle cx="754.8" cy="520.4" r="1.45"/><circle cx="761.7" cy="514.1" r="1.45"/><circle cx="761.7" cy="520.4" r="1.45"/><circle cx="768.6" cy="520.4" r="1.45"/><circle cx="768.6" cy="532.9" r="1.45"/><circle cx="775.6" cy="507.8" r="1.45"/><circle cx="775.6" cy="526.6" r="1.45"/><circle cx="775.6" cy="532.9" r="1.45"/><circle cx="775.6" cy="520.4" r="1.45"/><circle cx="782.5" cy="532.9" r="1.45"/><circle cx="789.4" cy="526.6" r="1.45"/><circle cx="789.4" cy="520.4" r="1.45"/><circle cx="796.3" cy="520.4" r="1.45"/><circle cx="796.3" cy="514.1" r="1.45"/><circle cx="796.3" cy="507.8" r="1.45"/><circle cx="803.2" cy="507.8" r="1.45"/><circle cx="803.2" cy="532.9" r="1.45"/></g>
<g fill="#d27c8a"><circle cx="29.6" cy="507.8" r="1.45"/><circle cx="50.0" cy="507.8" r="1.45"/><circle cx="85.0" cy="495.3" r="1.45"/><circle cx="112.0" cy="507.8" r="1.45"/><circle cx="182.0" cy="495.3" r="1.45"/><circle cx="202.0" cy="507.8" r="1.45"/><circle cx="229.0" cy="507.8" r="1.45"/><circle cx="244.0" cy="507.8" r="1.45"/><circle cx="264.0" cy="520.4" r="1.45"/><circle cx="264.0" cy="507.8" r="1.45"/><circle cx="292.0" cy="520.4" r="1.45"/><circle cx="304.0" cy="495.3" r="1.45"/><circle cx="312.0" cy="507.8" r="1.45"/><circle cx="326.0" cy="520.4" r="1.45"/><circle cx="348.0" cy="501.6" r="1.45"/><circle cx="354.0" cy="495.3" r="1.45"/><circle cx="361.0" cy="495.3" r="1.45"/><circle cx="375.0" cy="495.3" r="1.45"/><circle cx="382.0" cy="507.8" r="1.45"/><circle cx="388.0" cy="507.8" r="1.45"/><circle cx="403.0" cy="507.8" r="1.45"/><circle cx="410.0" cy="501.6" r="1.45"/><circle cx="417.0" cy="507.8" r="1.45"/><circle cx="423.3" cy="507.8" r="1.45"/><circle cx="430.2" cy="507.8" r="1.45"/><circle cx="437.1" cy="507.8" r="1.45"/><circle cx="444.0" cy="507.8" r="1.45"/><circle cx="450.9" cy="495.3" r="1.45"/><circle cx="457.8" cy="495.3" r="1.45"/><circle cx="464.7" cy="507.8" r="1.45"/><circle cx="478.6" cy="507.8" r="1.45"/><circle cx="485.5" cy="507.8" r="1.45"/><circle cx="485.5" cy="514.1" r="1.45"/><circle cx="492.4" cy="495.3" r="1.45"/><circle cx="499.3" cy="507.8" r="1.45"/><circle cx="506.2" cy="507.8" r="1.45"/><circle cx="513.1" cy="507.8" r="1.45"/><circle cx="520.0" cy="507.8" r="1.45"/><circle cx="520.0" cy="520.4" r="1.45"/><circle cx="526.9" cy="507.8" r="1.45"/><circle cx="540.7" cy="507.8" r="1.45"/><circle cx="547.6" cy="507.8" r="1.45"/><circle cx="547.6" cy="520.4" r="1.45"/><circle cx="554.5" cy="514.1" r="1.45"/><circle cx="554.5" cy="507.8" r="1.45"/><circle cx="561.4" cy="520.4" r="1.45"/><circle cx="568.3" cy="507.8" r="1.45"/><circle cx="575.2" cy="514.1" r="1.45"/><circle cx="575.2" cy="501.6" r="1.45"/><circle cx="582.2" cy="514.1" r="1.45"/><circle cx="596.0" cy="507.8" r="1.45"/><circle cx="609.8" cy="495.3" r="1.45"/><circle cx="616.7" cy="507.8" r="1.45"/><circle cx="644.3" cy="495.3" r="1.45"/><circle cx="665.0" cy="495.3" r="1.45"/><circle cx="665.0" cy="507.8" r="1.45"/><circle cx="678.9" cy="495.3" r="1.45"/><circle cx="685.8" cy="495.3" r="1.45"/><circle cx="692.7" cy="495.3" r="1.45"/><circle cx="692.7" cy="482.8" r="1.45"/><circle cx="699.6" cy="482.8" r="1.45"/><circle cx="706.5" cy="482.8" r="1.45"/><circle cx="713.4" cy="495.3" r="1.45"/><circle cx="720.3" cy="507.8" r="1.45"/><circle cx="734.1" cy="507.8" r="1.45"/><circle cx="741.0" cy="495.3" r="1.45"/><circle cx="741.0" cy="507.8" r="1.45"/><circle cx="747.9" cy="507.8" r="1.45"/><circle cx="747.9" cy="495.3" r="1.45"/><circle cx="754.8" cy="495.3" r="1.45"/><circle cx="761.7" cy="507.8" r="1.45"/><circle cx="768.6" cy="489.0" r="1.45"/><circle cx="768.6" cy="482.8" r="1.45"/><circle cx="775.6" cy="495.3" r="1.45"/><circle cx="775.6" cy="489.0" r="1.45"/><circle cx="782.5" cy="489.0" r="1.45"/><circle cx="782.5" cy="470.2" r="1.45"/><circle cx="782.5" cy="495.3" r="1.45"/><circle cx="789.4" cy="482.8" r="1.45"/><circle cx="796.3" cy="495.3" r="1.45"/><circle cx="796.3" cy="482.8" r="1.45"/><circle cx="803.2" cy="482.8" r="1.45"/></g>
<g fill="#f16c6c"><circle cx="64.0" cy="507.8" r="1.45"/><circle cx="112.0" cy="507.8" r="1.45"/><circle cx="126.0" cy="495.3" r="1.45"/><circle cx="126.0" cy="507.8" r="1.45"/><circle cx="161.0" cy="520.4" r="1.45"/><circle cx="188.0" cy="514.1" r="1.45"/><circle cx="202.0" cy="507.8" r="1.45"/><circle cx="215.0" cy="507.8" r="1.45"/><circle cx="229.0" cy="507.8" r="1.45"/><circle cx="264.0" cy="507.8" r="1.45"/><circle cx="278.0" cy="514.1" r="1.45"/><circle cx="304.0" cy="507.8" r="1.45"/><circle cx="312.0" cy="507.8" r="1.45"/><circle cx="312.0" cy="520.4" r="1.45"/><circle cx="319.0" cy="507.8" r="1.45"/><circle cx="326.0" cy="507.8" r="1.45"/><circle cx="354.0" cy="520.4" r="1.45"/><circle cx="361.0" cy="507.8" r="1.45"/><circle cx="403.0" cy="507.8" r="1.45"/><circle cx="410.0" cy="507.8" r="1.45"/><circle cx="417.0" cy="501.6" r="1.45"/><circle cx="423.3" cy="507.8" r="1.45"/><circle cx="430.2" cy="507.8" r="1.45"/><circle cx="437.1" cy="507.8" r="1.45"/><circle cx="437.1" cy="520.4" r="1.45"/><circle cx="444.0" cy="501.6" r="1.45"/><circle cx="450.9" cy="507.8" r="1.45"/><circle cx="464.7" cy="507.8" r="1.45"/><circle cx="471.6" cy="507.8" r="1.45"/><circle cx="478.6" cy="495.3" r="1.45"/><circle cx="485.5" cy="507.8" r="1.45"/><circle cx="492.4" cy="507.8" r="1.45"/><circle cx="499.3" cy="507.8" r="1.45"/><circle cx="506.2" cy="520.4" r="1.45"/><circle cx="513.1" cy="520.4" r="1.45"/><circle cx="520.0" cy="507.8" r="1.45"/><circle cx="540.7" cy="520.4" r="1.45"/><circle cx="547.6" cy="507.8" r="1.45"/><circle cx="547.6" cy="526.6" r="1.45"/><circle cx="554.5" cy="520.4" r="1.45"/><circle cx="561.4" cy="514.1" r="1.45"/><circle cx="561.4" cy="507.8" r="1.45"/><circle cx="568.3" cy="520.4" r="1.45"/><circle cx="568.3" cy="507.8" r="1.45"/><circle cx="575.2" cy="514.1" r="1.45"/><circle cx="575.2" cy="507.8" r="1.45"/><circle cx="582.2" cy="507.8" r="1.45"/><circle cx="596.0" cy="507.8" r="1.45"/><circle cx="602.9" cy="520.4" r="1.45"/><circle cx="609.8" cy="514.1" r="1.45"/><circle cx="616.7" cy="507.8" r="1.45"/><circle cx="616.7" cy="520.4" r="1.45"/><circle cx="644.3" cy="514.1" r="1.45"/><circle cx="644.3" cy="507.8" r="1.45"/><circle cx="651.2" cy="507.8" r="1.45"/><circle cx="665.0" cy="507.8" r="1.45"/><circle cx="672.0" cy="520.4" r="1.45"/><circle cx="678.9" cy="520.4" r="1.45"/><circle cx="685.8" cy="507.8" r="1.45"/><circle cx="692.7" cy="520.4" r="1.45"/><circle cx="699.6" cy="507.8" r="1.45"/><circle cx="706.5" cy="507.8" r="1.45"/><circle cx="713.4" cy="532.9" r="1.45"/><circle cx="720.3" cy="520.4" r="1.45"/><circle cx="734.1" cy="532.9" r="1.45"/><circle cx="734.1" cy="520.4" r="1.45"/><circle cx="734.1" cy="507.8" r="1.45"/><circle cx="741.0" cy="507.8" r="1.45"/><circle cx="747.9" cy="520.4" r="1.45"/><circle cx="754.8" cy="507.8" r="1.45"/><circle cx="761.7" cy="507.8" r="1.45"/><circle cx="768.6" cy="520.4" r="1.45"/><circle cx="768.6" cy="507.8" r="1.45"/><circle cx="775.6" cy="520.4" r="1.45"/><circle cx="775.6" cy="501.6" r="1.45"/><circle cx="782.5" cy="514.1" r="1.45"/><circle cx="782.5" cy="507.8" r="1.45"/><circle cx="789.4" cy="507.8" r="1.45"/><circle cx="796.3" cy="507.8" r="1.45"/><circle cx="796.3" cy="532.9" r="1.45"/><circle cx="796.3" cy="514.1" r="1.45"/></g>
<g fill="#aae8aa"><circle cx="202.0" cy="532.9" r="1.45"/><circle cx="202.0" cy="520.4" r="1.45"/><circle cx="229.0" cy="520.4" r="1.45"/><circle cx="244.0" cy="520.4" r="1.45"/><circle cx="258.0" cy="507.8" r="1.45"/><circle cx="264.0" cy="520.4" r="1.45"/><circle cx="278.0" cy="507.8" r="1.45"/><circle cx="278.0" cy="520.4" r="1.45"/><circle cx="292.0" cy="520.4" r="1.45"/><circle cx="304.0" cy="501.6" r="1.45"/><circle cx="304.0" cy="507.8" r="1.45"/><circle cx="319.0" cy="520.4" r="1.45"/><circle cx="348.0" cy="520.4" r="1.45"/><circle cx="354.0" cy="520.4" r="1.45"/><circle cx="388.0" cy="520.4" r="1.45"/><circle cx="396.0" cy="514.1" r="1.45"/><circle cx="410.0" cy="514.1" r="1.45"/><circle cx="417.0" cy="520.4" r="1.45"/><circle cx="430.2" cy="507.8" r="1.45"/><circle cx="437.1" cy="520.4" r="1.45"/><circle cx="444.0" cy="532.9" r="1.45"/><circle cx="450.9" cy="532.9" r="1.45"/><circle cx="457.8" cy="520.4" r="1.45"/><circle cx="464.7" cy="507.8" r="1.45"/><circle cx="471.6" cy="520.4" r="1.45"/><circle cx="478.6" cy="520.4" r="1.45"/><circle cx="485.5" cy="520.4" r="1.45"/><circle cx="485.5" cy="532.9" r="1.45"/><circle cx="492.4" cy="526.6" r="1.45"/><circle cx="499.3" cy="520.4" r="1.45"/><circle cx="513.1" cy="532.9" r="1.45"/><circle cx="520.0" cy="520.4" r="1.45"/><circle cx="526.9" cy="532.9" r="1.45"/><circle cx="554.5" cy="526.6" r="1.45"/><circle cx="554.5" cy="520.4" r="1.45"/><circle cx="561.4" cy="520.4" r="1.45"/><circle cx="561.4" cy="526.6" r="1.45"/><circle cx="568.3" cy="520.4" r="1.45"/><circle cx="575.2" cy="532.9" r="1.45"/><circle cx="596.0" cy="507.8" r="1.45"/><circle cx="596.0" cy="514.1" r="1.45"/><circle cx="602.9" cy="514.1" r="1.45"/><circle cx="609.8" cy="520.4" r="1.45"/><circle cx="616.7" cy="532.9" r="1.45"/><circle cx="616.7" cy="526.6" r="1.45"/><circle cx="630.5" cy="520.4" r="1.45"/><circle cx="644.3" cy="532.9" r="1.45"/><circle cx="651.2" cy="520.4" r="1.45"/><circle cx="665.0" cy="520.4" r="1.45"/><circle cx="678.9" cy="520.4" r="1.45"/><circle cx="685.8" cy="539.1" r="1.45"/><circle cx="692.7" cy="520.4" r="1.45"/><circle cx="706.5" cy="507.8" r="1.45"/><circle cx="713.4" cy="514.1" r="1.45"/><circle cx="720.3" cy="520.4" r="1.45"/><circle cx="720.3" cy="507.8" r="1.45"/><circle cx="727.2" cy="532.9" r="1.45"/><circle cx="734.1" cy="520.4" r="1.45"/><circle cx="734.1" cy="532.9" r="1.45"/><circle cx="741.0" cy="507.8" r="1.45"/><circle cx="741.0" cy="532.9" r="1.45"/><circle cx="741.0" cy="520.4" r="1.45"/><circle cx="747.9" cy="520.4" r="1.45"/><circle cx="754.8" cy="507.8" r="1.45"/><circle cx="761.7" cy="514.1" r="1.45"/><circle cx="761.7" cy="532.9" r="1.45"/><circle cx="768.6" cy="526.6" r="1.45"/><circle cx="768.6" cy="532.9" r="1.45"/><circle cx="775.6" cy="532.9" r="1.45"/><circle cx="775.6" cy="526.6" r="1.45"/><circle cx="775.6" cy="520.4" r="1.45"/><circle cx="782.5" cy="532.9" r="1.45"/><circle cx="782.5" cy="520.4" r="1.45"/><circle cx="796.3" cy="532.9" r="1.45"/><circle cx="796.3" cy="520.4" r="1.45"/><circle cx="796.3" cy="526.6" r="1.45"/><circle cx="803.2" cy="520.4" r="1.45"/></g>
<g fill="#eb85a2"><circle cx="29.6" cy="157.1" r="1.45"/><circle cx="50.0" cy="144.6" r="1.45"/><circle cx="64.0" cy="119.5" r="1.45"/><circle cx="85.0" cy="119.5" r="1.45"/><circle cx="90.0" cy="119.5" r="1.45"/><circle cx="112.0" cy="107.0" r="1.45"/><circle cx="126.0" cy="119.5" r="1.45"/><circle cx="133.0" cy="107.0" r="1.45"/><circle cx="140.0" cy="163.4" r="1.45"/><circle cx="147.0" cy="157.1" r="1.45"/><circle cx="161.0" cy="182.2" r="1.45"/><circle cx="168.0" cy="194.7" r="1.45"/><circle cx="182.0" cy="175.9" r="1.45"/><circle cx="182.0" cy="182.2" r="1.45"/><circle cx="188.0" cy="194.7" r="1.45"/><circle cx="195.0" cy="182.2" r="1.45"/><circle cx="202.0" cy="201.0" r="1.45"/><circle cx="202.0" cy="219.7" r="1.45"/><circle cx="215.0" cy="182.2" r="1.45"/><circle cx="229.0" cy="213.5" r="1.45"/><circle cx="244.0" cy="219.7" r="1.45"/><circle cx="258.0" cy="207.2" r="1.45"/><circle cx="264.0" cy="194.7" r="1.45"/><circle cx="264.0" cy="219.7" r="1.45"/><circle cx="278.0" cy="232.3" r="1.45"/><circle cx="278.0" cy="182.2" r="1.45"/><circle cx="292.0" cy="182.2" r="1.45"/><circle cx="304.0" cy="232.3" r="1.45"/><circle cx="304.0" cy="188.4" r="1.45"/><circle cx="312.0" cy="219.7" r="1.45"/><circle cx="319.0" cy="232.3" r="1.45"/><circle cx="326.0" cy="207.2" r="1.45"/><circle cx="326.0" cy="232.3" r="1.45"/><circle cx="340.0" cy="182.2" r="1.45"/><circle cx="348.0" cy="219.7" r="1.45"/><circle cx="354.0" cy="219.7" r="1.45"/><circle cx="361.0" cy="219.7" r="1.45"/><circle cx="375.0" cy="207.2" r="1.45"/><circle cx="382.0" cy="175.9" r="1.45"/><circle cx="388.0" cy="232.3" r="1.45"/><circle cx="396.0" cy="232.3" r="1.45"/><circle cx="403.0" cy="238.5" r="1.45"/><circle cx="410.0" cy="232.3" r="1.45"/><circle cx="417.0" cy="207.2" r="1.45"/><circle cx="423.3" cy="194.7" r="1.45"/><circle cx="430.2" cy="207.2" r="1.45"/><circle cx="437.1" cy="232.3" r="1.45"/><circle cx="437.1" cy="194.7" r="1.45"/><circle cx="444.0" cy="232.3" r="1.45"/><circle cx="450.9" cy="232.3" r="1.45"/><circle cx="457.8" cy="207.2" r="1.45"/><circle cx="464.7" cy="238.5" r="1.45"/><circle cx="471.6" cy="219.7" r="1.45"/><circle cx="478.6" cy="213.5" r="1.45"/><circle cx="485.5" cy="219.7" r="1.45"/><circle cx="485.5" cy="232.3" r="1.45"/><circle cx="492.4" cy="226.0" r="1.45"/><circle cx="499.3" cy="232.3" r="1.45"/><circle cx="506.2" cy="232.3" r="1.45"/><circle cx="513.1" cy="219.7" r="1.45"/><circle cx="520.0" cy="219.7" r="1.45"/><circle cx="520.0" cy="232.3" r="1.45"/><circle cx="526.9" cy="219.7" r="1.45"/><circle cx="540.7" cy="257.3" r="1.45"/><circle cx="547.6" cy="232.3" r="1.45"/><circle cx="547.6" cy="213.5" r="1.45"/><circle cx="554.5" cy="219.7" r="1.45"/><circle cx="554.5" cy="251.1" r="1.45"/><circle cx="561.4" cy="244.8" r="1.45"/><circle cx="561.4" cy="219.7" r="1.45"/><circle cx="568.3" cy="244.8" r="1.45"/><circle cx="568.3" cy="219.7" r="1.45"/><circle cx="568.3" cy="257.3" r="1.45"/><circle cx="575.2" cy="232.3" r="1.45"/><circle cx="582.2" cy="207.2" r="1.45"/><circle cx="596.0" cy="232.3" r="1.45"/><circle cx="602.9" cy="219.7" r="1.45"/><circle cx="609.8" cy="207.2" r="1.45"/><circle cx="609.8" cy="232.3" r="1.45"/><circle cx="616.7" cy="194.7" r="1.45"/><circle cx="616.7" cy="244.8" r="1.45"/><circle cx="630.5" cy="207.2" r="1.45"/><circle cx="644.3" cy="232.3" r="1.45"/><circle cx="644.3" cy="226.0" r="1.45"/><circle cx="651.2" cy="219.7" r="1.45"/><circle cx="665.0" cy="244.8" r="1.45"/><circle cx="665.0" cy="219.7" r="1.45"/><circle cx="672.0" cy="232.3" r="1.45"/><circle cx="678.9" cy="244.8" r="1.45"/><circle cx="685.8" cy="244.8" r="1.45"/><circle cx="692.7" cy="232.3" r="1.45"/><circle cx="692.7" cy="244.8" r="1.45"/><circle cx="699.6" cy="232.3" r="1.45"/><circle cx="706.5" cy="257.3" r="1.45"/><circle cx="713.4" cy="257.3" r="1.45"/><circle cx="720.3" cy="232.3" r="1.45"/><circle cx="720.3" cy="251.1" r="1.45"/><circle cx="727.2" cy="257.3" r="1.45"/><circle cx="734.1" cy="257.3" r="1.45"/><circle cx="741.0" cy="244.8" r="1.45"/><circle cx="741.0" cy="219.7" r="1.45"/><circle cx="747.9" cy="251.1" r="1.45"/><circle cx="747.9" cy="232.3" r="1.45"/><circle cx="754.8" cy="207.2" r="1.45"/><circle cx="754.8" cy="244.8" r="1.45"/><circle cx="761.7" cy="232.3" r="1.45"/><circle cx="761.7" cy="269.8" r="1.45"/><circle cx="761.7" cy="244.8" r="1.45"/><circle cx="768.6" cy="244.8" r="1.45"/><circle cx="768.6" cy="219.7" r="1.45"/><circle cx="768.6" cy="257.3" r="1.45"/><circle cx="775.6" cy="257.3" r="1.45"/><circle cx="775.6" cy="263.6" r="1.45"/><circle cx="775.6" cy="232.3" r="1.45"/><circle cx="775.6" cy="219.7" r="1.45"/><circle cx="782.5" cy="232.3" r="1.45"/><circle cx="782.5" cy="257.3" r="1.45"/><circle cx="789.4" cy="257.3" r="1.45"/><circle cx="789.4" cy="219.7" r="1.45"/><circle cx="796.3" cy="232.3" r="1.45"/><circle cx="796.3" cy="257.3" r="1.45"/><circle cx="803.2" cy="232.3" r="1.45"/><circle cx="803.2" cy="244.8" r="1.45"/></g>
<g fill="#72d075"><circle cx="64.0" cy="526.6" r="1.45"/><circle cx="161.0" cy="520.4" r="1.45"/><circle cx="168.0" cy="520.4" r="1.45"/><circle cx="202.0" cy="545.4" r="1.45"/><circle cx="215.0" cy="520.4" r="1.45"/><circle cx="229.0" cy="520.4" r="1.45"/><circle cx="244.0" cy="532.9" r="1.45"/><circle cx="264.0" cy="526.6" r="1.45"/><circle cx="292.0" cy="520.4" r="1.45"/><circle cx="304.0" cy="520.4" r="1.45"/><circle cx="312.0" cy="520.4" r="1.45"/><circle cx="326.0" cy="520.4" r="1.45"/><circle cx="340.0" cy="532.9" r="1.45"/><circle cx="348.0" cy="532.9" r="1.45"/><circle cx="354.0" cy="532.9" r="1.45"/><circle cx="396.0" cy="532.9" r="1.45"/><circle cx="417.0" cy="532.9" r="1.45"/><circle cx="423.3" cy="532.9" r="1.45"/><circle cx="430.2" cy="532.9" r="1.45"/><circle cx="437.1" cy="532.9" r="1.45"/><circle cx="437.1" cy="526.6" r="1.45"/><circle cx="444.0" cy="526.6" r="1.45"/><circle cx="450.9" cy="539.1" r="1.45"/><circle cx="457.8" cy="520.4" r="1.45"/><circle cx="464.7" cy="532.9" r="1.45"/><circle cx="478.6" cy="532.9" r="1.45"/><circle cx="485.5" cy="526.6" r="1.45"/><circle cx="485.5" cy="532.9" r="1.45"/><circle cx="499.3" cy="526.6" r="1.45"/><circle cx="506.2" cy="532.9" r="1.45"/><circle cx="513.1" cy="532.9" r="1.45"/><circle cx="520.0" cy="526.6" r="1.45"/><circle cx="526.9" cy="532.9" r="1.45"/><circle cx="540.7" cy="539.1" r="1.45"/><circle cx="547.6" cy="545.4" r="1.45"/><circle cx="547.6" cy="532.9" r="1.45"/><circle cx="554.5" cy="520.4" r="1.45"/><circle cx="554.5" cy="539.1" r="1.45"/><circle cx="561.4" cy="532.9" r="1.45"/><circle cx="568.3" cy="532.9" r="1.45"/><circle cx="568.3" cy="520.4" r="1.45"/><circle cx="582.2" cy="532.9" r="1.45"/><circle cx="596.0" cy="532.9" r="1.45"/><circle cx="602.9" cy="532.9" r="1.45"/><circle cx="609.8" cy="520.4" r="1.45"/><circle cx="616.7" cy="545.4" r="1.45"/><circle cx="630.5" cy="545.4" r="1.45"/><circle cx="644.3" cy="532.9" r="1.45"/><circle cx="651.2" cy="526.6" r="1.45"/><circle cx="665.0" cy="532.9" r="1.45"/><circle cx="672.0" cy="520.4" r="1.45"/><circle cx="678.9" cy="532.9" r="1.45"/><circle cx="685.8" cy="520.4" r="1.45"/><circle cx="692.7" cy="532.9" r="1.45"/><circle cx="699.6" cy="532.9" r="1.45"/><circle cx="706.5" cy="520.4" r="1.45"/><circle cx="713.4" cy="532.9" r="1.45"/><circle cx="720.3" cy="532.9" r="1.45"/><circle cx="720.3" cy="526.6" r="1.45"/><circle cx="727.2" cy="526.6" r="1.45"/><circle cx="734.1" cy="507.8" r="1.45"/><circle cx="734.1" cy="532.9" r="1.45"/><circle cx="741.0" cy="520.4" r="1.45"/><circle cx="741.0" cy="539.1" r="1.45"/><circle cx="747.9" cy="532.9" r="1.45"/><circle cx="754.8" cy="520.4" r="1.45"/><circle cx="761.7" cy="520.4" r="1.45"/><circle cx="761.7" cy="532.9" r="1.45"/><circle cx="768.6" cy="545.4" r="1.45"/><circle cx="768.6" cy="520.4" r="1.45"/><circle cx="768.6" cy="532.9" r="1.45"/><circle cx="775.6" cy="520.4" r="1.45"/><circle cx="775.6" cy="539.1" r="1.45"/><circle cx="775.6" cy="532.9" r="1.45"/><circle cx="782.5" cy="545.4" r="1.45"/><circle cx="782.5" cy="532.9" r="1.45"/><circle cx="789.4" cy="520.4" r="1.45"/><circle cx="796.3" cy="507.8" r="1.45"/><circle cx="796.3" cy="532.9" r="1.45"/><circle cx="796.3" cy="520.4" r="1.45"/><circle cx="803.2" cy="520.4" r="1.45"/><circle cx="803.2" cy="532.9" r="1.45"/></g>
<g fill="#c6f185"><circle cx="29.6" cy="532.9" r="1.45"/><circle cx="182.0" cy="532.9" r="1.45"/><circle cx="202.0" cy="532.9" r="1.45"/><circle cx="202.0" cy="539.1" r="1.45"/><circle cx="215.0" cy="532.9" r="1.45"/><circle cx="229.0" cy="520.4" r="1.45"/><circle cx="258.0" cy="545.4" r="1.45"/><circle cx="264.0" cy="532.9" r="1.45"/><circle cx="278.0" cy="532.9" r="1.45"/><circle cx="292.0" cy="545.4" r="1.45"/><circle cx="304.0" cy="545.4" r="1.45"/><circle cx="304.0" cy="532.9" r="1.45"/><circle cx="312.0" cy="526.6" r="1.45"/><circle cx="319.0" cy="545.4" r="1.45"/><circle cx="326.0" cy="545.4" r="1.45"/><circle cx="340.0" cy="532.9" r="1.45"/><circle cx="417.0" cy="539.1" r="1.45"/><circle cx="430.2" cy="532.9" r="1.45"/><circle cx="437.1" cy="545.4" r="1.45"/><circle cx="444.0" cy="545.4" r="1.45"/><circle cx="450.9" cy="532.9" r="1.45"/><circle cx="457.8" cy="545.4" r="1.45"/><circle cx="464.7" cy="532.9" r="1.45"/><circle cx="471.6" cy="545.4" r="1.45"/><circle cx="478.6" cy="539.1" r="1.45"/><circle cx="485.5" cy="545.4" r="1.45"/><circle cx="492.4" cy="545.4" r="1.45"/><circle cx="499.3" cy="545.4" r="1.45"/><circle cx="506.2" cy="545.4" r="1.45"/><circle cx="513.1" cy="545.4" r="1.45"/></g>
<g fill="#6c91c5"><circle cx="182.0" cy="532.9" r="1.45"/><circle cx="202.0" cy="545.4" r="1.45"/><circle cx="215.0" cy="545.4" r="1.45"/><circle cx="244.0" cy="545.4" r="1.45"/><circle cx="258.0" cy="532.9" r="1.45"/><circle cx="264.0" cy="532.9" r="1.45"/><circle cx="304.0" cy="532.9" r="1.45"/><circle cx="312.0" cy="539.1" r="1.45"/><circle cx="312.0" cy="545.4" r="1.45"/><circle cx="326.0" cy="539.1" r="1.45"/><circle cx="354.0" cy="532.9" r="1.45"/><circle cx="382.0" cy="532.9" r="1.45"/><circle cx="388.0" cy="545.4" r="1.45"/><circle cx="396.0" cy="545.4" r="1.45"/><circle cx="410.0" cy="545.4" r="1.45"/><circle cx="417.0" cy="545.4" r="1.45"/><circle cx="423.3" cy="545.4" r="1.45"/><circle cx="430.2" cy="532.9" r="1.45"/><circle cx="437.1" cy="532.9" r="1.45"/><circle cx="437.1" cy="545.4" r="1.45"/><circle cx="444.0" cy="532.9" r="1.45"/><circle cx="450.9" cy="532.9" r="1.45"/><circle cx="457.8" cy="545.4" r="1.45"/><circle cx="464.7" cy="532.9" r="1.45"/><circle cx="471.6" cy="545.4" r="1.45"/><circle cx="478.6" cy="532.9" r="1.45"/><circle cx="485.5" cy="545.4" r="1.45"/><circle cx="485.5" cy="532.9" r="1.45"/><circle cx="492.4" cy="520.4" r="1.45"/><circle cx="499.3" cy="545.4" r="1.45"/><circle cx="506.2" cy="545.4" r="1.45"/><circle cx="520.0" cy="532.9" r="1.45"/><circle cx="526.9" cy="526.6" r="1.45"/><circle cx="540.7" cy="532.9" r="1.45"/><circle cx="547.6" cy="532.9" r="1.45"/><circle cx="547.6" cy="545.4" r="1.45"/><circle cx="554.5" cy="526.6" r="1.45"/><circle cx="554.5" cy="532.9" r="1.45"/><circle cx="561.4" cy="545.4" r="1.45"/><circle cx="561.4" cy="539.1" r="1.45"/><circle cx="568.3" cy="545.4" r="1.45"/><circle cx="568.3" cy="532.9" r="1.45"/><circle cx="575.2" cy="539.1" r="1.45"/><circle cx="575.2" cy="532.9" r="1.45"/><circle cx="582.2" cy="532.9" r="1.45"/><circle cx="596.0" cy="545.4" r="1.45"/><circle cx="602.9" cy="539.1" r="1.45"/><circle cx="609.8" cy="539.1" r="1.45"/><circle cx="609.8" cy="520.4" r="1.45"/><circle cx="616.7" cy="532.9" r="1.45"/><circle cx="630.5" cy="545.4" r="1.45"/><circle cx="644.3" cy="520.4" r="1.45"/><circle cx="665.0" cy="532.9" r="1.45"/><circle cx="672.0" cy="532.9" r="1.45"/><circle cx="692.7" cy="532.9" r="1.45"/><circle cx="699.6" cy="532.9" r="1.45"/><circle cx="706.5" cy="539.1" r="1.45"/><circle cx="720.3" cy="532.9" r="1.45"/><circle cx="720.3" cy="520.4" r="1.45"/><circle cx="727.2" cy="532.9" r="1.45"/><circle cx="734.1" cy="532.9" r="1.45"/><circle cx="741.0" cy="514.1" r="1.45"/><circle cx="741.0" cy="520.4" r="1.45"/><circle cx="741.0" cy="507.8" r="1.45"/><circle cx="747.9" cy="532.9" r="1.45"/><circle cx="747.9" cy="520.4" r="1.45"/><circle cx="754.8" cy="532.9" r="1.45"/><circle cx="761.7" cy="520.4" r="1.45"/><circle cx="768.6" cy="520.4" r="1.45"/><circle cx="775.6" cy="532.9" r="1.45"/><circle cx="782.5" cy="532.9" r="1.45"/><circle cx="782.5" cy="526.6" r="1.45"/><circle cx="789.4" cy="520.4" r="1.45"/><circle cx="796.3" cy="520.4" r="1.45"/><circle cx="796.3" cy="532.9" r="1.45"/></g>
<g fill="#f1bd72"><circle cx="29.6" cy="420.1" r="1.45"/><circle cx="50.0" cy="445.2" r="1.45"/><circle cx="64.0" cy="407.6" r="1.45"/><circle cx="85.0" cy="445.2" r="1.45"/><circle cx="90.0" cy="407.6" r="1.45"/><circle cx="112.0" cy="395.1" r="1.45"/><circle cx="126.0" cy="407.6" r="1.45"/><circle cx="126.0" cy="445.2" r="1.45"/><circle cx="133.0" cy="407.6" r="1.45"/><circle cx="140.0" cy="407.6" r="1.45"/><circle cx="147.0" cy="426.4" r="1.45"/><circle cx="161.0" cy="432.7" r="1.45"/><circle cx="161.0" cy="420.1" r="1.45"/><circle cx="168.0" cy="420.1" r="1.45"/><circle cx="182.0" cy="420.1" r="1.45"/><circle cx="188.0" cy="395.1" r="1.45"/><circle cx="195.0" cy="407.6" r="1.45"/><circle cx="202.0" cy="382.6" r="1.45"/><circle cx="202.0" cy="407.6" r="1.45"/><circle cx="215.0" cy="420.1" r="1.45"/><circle cx="229.0" cy="382.6" r="1.45"/><circle cx="244.0" cy="382.6" r="1.45"/><circle cx="258.0" cy="395.1" r="1.45"/><circle cx="264.0" cy="420.1" r="1.45"/><circle cx="264.0" cy="382.6" r="1.45"/><circle cx="278.0" cy="395.1" r="1.45"/><circle cx="278.0" cy="382.6" r="1.45"/><circle cx="292.0" cy="370.0" r="1.45"/><circle cx="304.0" cy="382.6" r="1.45"/><circle cx="304.0" cy="357.5" r="1.45"/><circle cx="312.0" cy="407.6" r="1.45"/><circle cx="319.0" cy="395.1" r="1.45"/><circle cx="326.0" cy="357.5" r="1.45"/><circle cx="326.0" cy="370.0" r="1.45"/><circle cx="340.0" cy="357.5" r="1.45"/><circle cx="348.0" cy="382.6" r="1.45"/><circle cx="354.0" cy="345.0" r="1.45"/><circle cx="361.0" cy="370.0" r="1.45"/><circle cx="375.0" cy="357.5" r="1.45"/><circle cx="382.0" cy="376.3" r="1.45"/><circle cx="388.0" cy="395.1" r="1.45"/><circle cx="396.0" cy="370.0" r="1.45"/><circle cx="403.0" cy="332.5" r="1.45"/><circle cx="410.0" cy="357.5" r="1.45"/><circle cx="417.0" cy="345.0" r="1.45"/><circle cx="423.3" cy="294.9" r="1.45"/><circle cx="430.2" cy="319.9" r="1.45"/><circle cx="437.1" cy="319.9" r="1.45"/><circle cx="437.1" cy="313.7" r="1.45"/><circle cx="444.0" cy="345.0" r="1.45"/><circle cx="450.9" cy="319.9" r="1.45"/><circle cx="457.8" cy="319.9" r="1.45"/><circle cx="464.7" cy="307.4" r="1.45"/><circle cx="471.6" cy="307.4" r="1.45"/><circle cx="478.6" cy="307.4" r="1.45"/><circle cx="485.5" cy="294.9" r="1.45"/><circle cx="485.5" cy="319.9" r="1.45"/><circle cx="485.5" cy="301.2" r="1.45"/><circle cx="492.4" cy="294.9" r="1.45"/><circle cx="499.3" cy="269.8" r="1.45"/><circle cx="506.2" cy="269.8" r="1.45"/><circle cx="513.1" cy="269.8" r="1.45"/><circle cx="520.0" cy="257.3" r="1.45"/><circle cx="520.0" cy="288.6" r="1.45"/><circle cx="526.9" cy="282.4" r="1.45"/><circle cx="540.7" cy="269.8" r="1.45"/><circle cx="547.6" cy="257.3" r="1.45"/><circle cx="547.6" cy="269.8" r="1.45"/><circle cx="554.5" cy="282.4" r="1.45"/><circle cx="561.4" cy="269.8" r="1.45"/><circle cx="561.4" cy="282.4" r="1.45"/><circle cx="568.3" cy="269.8" r="1.45"/><circle cx="568.3" cy="257.3" r="1.45"/><circle cx="575.2" cy="294.9" r="1.45"/><circle cx="575.2" cy="282.4" r="1.45"/><circle cx="582.2" cy="276.1" r="1.45"/><circle cx="596.0" cy="282.4" r="1.45"/><circle cx="596.0" cy="307.4" r="1.45"/><circle cx="602.9" cy="319.9" r="1.45"/><circle cx="609.8" cy="294.9" r="1.45"/><circle cx="609.8" cy="269.8" r="1.45"/><circle cx="616.7" cy="282.4" r="1.45"/><circle cx="616.7" cy="294.9" r="1.45"/><circle cx="630.5" cy="294.9" r="1.45"/><circle cx="644.3" cy="307.4" r="1.45"/><circle cx="644.3" cy="288.6" r="1.45"/><circle cx="651.2" cy="319.9" r="1.45"/><circle cx="665.0" cy="288.6" r="1.45"/><circle cx="665.0" cy="319.9" r="1.45"/><circle cx="672.0" cy="294.9" r="1.45"/><circle cx="678.9" cy="326.2" r="1.45"/><circle cx="685.8" cy="319.9" r="1.45"/><circle cx="692.7" cy="294.9" r="1.45"/><circle cx="692.7" cy="288.6" r="1.45"/><circle cx="699.6" cy="294.9" r="1.45"/><circle cx="706.5" cy="307.4" r="1.45"/><circle cx="713.4" cy="307.4" r="1.45"/><circle cx="720.3" cy="294.9" r="1.45"/><circle cx="720.3" cy="307.4" r="1.45"/><circle cx="727.2" cy="294.9" r="1.45"/><circle cx="734.1" cy="282.4" r="1.45"/><circle cx="734.1" cy="307.4" r="1.45"/><circle cx="741.0" cy="319.9" r="1.45"/><circle cx="741.0" cy="301.2" r="1.45"/><circle cx="741.0" cy="294.9" r="1.45"/><circle cx="741.0" cy="307.4" r="1.45"/><circle cx="747.9" cy="319.9" r="1.45"/><circle cx="747.9" cy="345.0" r="1.45"/><circle cx="754.8" cy="319.9" r="1.45"/><circle cx="754.8" cy="307.4" r="1.45"/><circle cx="761.7" cy="338.7" r="1.45"/><circle cx="761.7" cy="307.4" r="1.45"/><circle cx="768.6" cy="319.9" r="1.45"/><circle cx="768.6" cy="294.9" r="1.45"/><circle cx="768.6" cy="307.4" r="1.45"/><circle cx="768.6" cy="332.5" r="1.45"/><circle cx="775.6" cy="326.2" r="1.45"/><circle cx="775.6" cy="307.4" r="1.45"/><circle cx="782.5" cy="332.5" r="1.45"/><circle cx="782.5" cy="294.9" r="1.45"/><circle cx="782.5" cy="307.4" r="1.45"/><circle cx="789.4" cy="307.4" r="1.45"/><circle cx="789.4" cy="319.9" r="1.45"/><circle cx="796.3" cy="307.4" r="1.45"/><circle cx="796.3" cy="301.2" r="1.45"/><circle cx="803.2" cy="338.7" r="1.45"/><circle cx="803.2" cy="326.2" r="1.45"/></g>
<g fill="#7f95cc"><circle cx="29.6" cy="132.1" r="1.45"/><circle cx="50.0" cy="144.6" r="1.45"/><circle cx="64.0" cy="144.6" r="1.45"/><circle cx="85.0" cy="144.6" r="1.45"/><circle cx="90.0" cy="157.1" r="1.45"/><circle cx="112.0" cy="169.6" r="1.45"/><circle cx="126.0" cy="144.6" r="1.45"/><circle cx="133.0" cy="150.9" r="1.45"/><circle cx="140.0" cy="169.6" r="1.45"/><circle cx="147.0" cy="144.6" r="1.45"/><circle cx="161.0" cy="163.4" r="1.45"/><circle cx="161.0" cy="157.1" r="1.45"/><circle cx="168.0" cy="132.1" r="1.45"/><circle cx="182.0" cy="125.8" r="1.45"/><circle cx="182.0" cy="132.1" r="1.45"/><circle cx="188.0" cy="132.1" r="1.45"/><circle cx="195.0" cy="132.1" r="1.45"/><circle cx="202.0" cy="132.1" r="1.45"/><circle cx="202.0" cy="157.1" r="1.45"/><circle cx="215.0" cy="132.1" r="1.45"/><circle cx="229.0" cy="144.6" r="1.45"/><circle cx="244.0" cy="150.9" r="1.45"/><circle cx="258.0" cy="144.6" r="1.45"/><circle cx="264.0" cy="144.6" r="1.45"/><circle cx="278.0" cy="157.1" r="1.45"/><circle cx="278.0" cy="132.1" r="1.45"/><circle cx="292.0" cy="144.6" r="1.45"/><circle cx="304.0" cy="125.8" r="1.45"/><circle cx="304.0" cy="107.0" r="1.45"/><circle cx="312.0" cy="119.5" r="1.45"/><circle cx="312.0" cy="125.8" r="1.45"/><circle cx="319.0" cy="144.6" r="1.45"/><circle cx="326.0" cy="144.6" r="1.45"/><circle cx="326.0" cy="125.8" r="1.45"/><circle cx="340.0" cy="132.1" r="1.45"/><circle cx="348.0" cy="132.1" r="1.45"/><circle cx="354.0" cy="138.3" r="1.45"/><circle cx="361.0" cy="144.6" r="1.45"/><circle cx="375.0" cy="132.1" r="1.45"/><circle cx="382.0" cy="144.6" r="1.45"/><circle cx="388.0" cy="182.2" r="1.45"/><circle cx="396.0" cy="157.1" r="1.45"/><circle cx="403.0" cy="169.6" r="1.45"/><circle cx="410.0" cy="157.1" r="1.45"/><circle cx="417.0" cy="163.4" r="1.45"/><circle cx="423.3" cy="182.2" r="1.45"/><circle cx="430.2" cy="169.6" r="1.45"/><circle cx="437.1" cy="182.2" r="1.45"/><circle cx="437.1" cy="157.1" r="1.45"/><circle cx="444.0" cy="144.6" r="1.45"/><circle cx="450.9" cy="182.2" r="1.45"/><circle cx="457.8" cy="157.1" r="1.45"/><circle cx="464.7" cy="175.9" r="1.45"/><circle cx="471.6" cy="175.9" r="1.45"/><circle cx="478.6" cy="194.7" r="1.45"/><circle cx="485.5" cy="194.7" r="1.45"/><circle cx="485.5" cy="157.1" r="1.45"/><circle cx="485.5" cy="182.2" r="1.45"/><circle cx="492.4" cy="194.7" r="1.45"/><circle cx="499.3" cy="182.2" r="1.45"/><circle cx="506.2" cy="207.2" r="1.45"/><circle cx="513.1" cy="169.6" r="1.45"/><circle cx="520.0" cy="182.2" r="1.45"/><circle cx="520.0" cy="207.2" r="1.45"/><circle cx="526.9" cy="194.7" r="1.45"/><circle cx="540.7" cy="188.4" r="1.45"/><circle cx="547.6" cy="194.7" r="1.45"/><circle cx="547.6" cy="169.6" r="1.45"/><circle cx="554.5" cy="207.2" r="1.45"/><circle cx="554.5" cy="219.7" r="1.45"/><circle cx="561.4" cy="182.2" r="1.45"/><circle cx="561.4" cy="201.0" r="1.45"/><circle cx="568.3" cy="194.7" r="1.45"/><circle cx="568.3" cy="182.2" r="1.45"/><circle cx="575.2" cy="157.1" r="1.45"/><circle cx="575.2" cy="182.2" r="1.45"/><circle cx="582.2" cy="194.7" r="1.45"/><circle cx="596.0" cy="157.1" r="1.45"/><circle cx="596.0" cy="169.6" r="1.45"/><circle cx="602.9" cy="194.7" r="1.45"/><circle cx="609.8" cy="169.6" r="1.45"/><circle cx="609.8" cy="194.7" r="1.45"/><circle cx="616.7" cy="169.6" r="1.45"/><circle cx="616.7" cy="144.6" r="1.45"/><circle cx="630.5" cy="194.7" r="1.45"/><circle cx="644.3" cy="169.6" r="1.45"/><circle cx="644.3" cy="182.2" r="1.45"/><circle cx="651.2" cy="157.1" r="1.45"/><circle cx="665.0" cy="157.1" r="1.45"/><circle cx="665.0" cy="201.0" r="1.45"/><circle cx="672.0" cy="182.2" r="1.45"/><circle cx="678.9" cy="175.9" r="1.45"/><circle cx="685.8" cy="182.2" r="1.45"/><circle cx="692.7" cy="157.1" r="1.45"/><circle cx="699.6" cy="182.2" r="1.45"/><circle cx="706.5" cy="194.7" r="1.45"/><circle cx="713.4" cy="169.6" r="1.45"/><circle cx="720.3" cy="182.2" r="1.45"/><circle cx="720.3" cy="157.1" r="1.45"/><circle cx="727.2" cy="144.6" r="1.45"/><circle cx="734.1" cy="194.7" r="1.45"/><circle cx="734.1" cy="169.6" r="1.45"/><circle cx="734.1" cy="188.4" r="1.45"/><circle cx="741.0" cy="144.6" r="1.45"/><circle cx="741.0" cy="182.2" r="1.45"/><circle cx="741.0" cy="175.9" r="1.45"/><circle cx="747.9" cy="144.6" r="1.45"/><circle cx="747.9" cy="194.7" r="1.45"/><circle cx="754.8" cy="169.6" r="1.45"/><circle cx="754.8" cy="182.2" r="1.45"/><circle cx="761.7" cy="157.1" r="1.45"/><circle cx="761.7" cy="169.6" r="1.45"/><circle cx="768.6" cy="144.6" r="1.45"/><circle cx="768.6" cy="182.2" r="1.45"/><circle cx="768.6" cy="157.1" r="1.45"/><circle cx="768.6" cy="219.7" r="1.45"/><circle cx="775.6" cy="163.4" r="1.45"/><circle cx="775.6" cy="207.2" r="1.45"/><circle cx="775.6" cy="169.6" r="1.45"/><circle cx="782.5" cy="188.4" r="1.45"/><circle cx="782.5" cy="169.6" r="1.45"/><circle cx="782.5" cy="194.7" r="1.45"/><circle cx="789.4" cy="201.0" r="1.45"/><circle cx="789.4" cy="194.7" r="1.45"/><circle cx="796.3" cy="169.6" r="1.45"/><circle cx="796.3" cy="182.2" r="1.45"/><circle cx="796.3" cy="207.2" r="1.45"/><circle cx="803.2" cy="169.6" r="1.45"/></g>
<g fill="#c9bede"><circle cx="140.0" cy="532.9" r="1.45"/><circle cx="161.0" cy="532.9" r="1.45"/><circle cx="168.0" cy="545.4" r="1.45"/><circle cx="182.0" cy="532.9" r="1.45"/><circle cx="188.0" cy="532.9" r="1.45"/><circle cx="215.0" cy="545.4" r="1.45"/><circle cx="244.0" cy="532.9" r="1.45"/><circle cx="278.0" cy="539.1" r="1.45"/><circle cx="292.0" cy="532.9" r="1.45"/><circle cx="304.0" cy="545.4" r="1.45"/><circle cx="312.0" cy="545.4" r="1.45"/><circle cx="319.0" cy="545.4" r="1.45"/><circle cx="340.0" cy="532.9" r="1.45"/><circle cx="354.0" cy="532.9" r="1.45"/><circle cx="361.0" cy="532.9" r="1.45"/><circle cx="375.0" cy="545.4" r="1.45"/><circle cx="388.0" cy="532.9" r="1.45"/><circle cx="396.0" cy="532.9" r="1.45"/><circle cx="403.0" cy="532.9" r="1.45"/><circle cx="410.0" cy="520.4" r="1.45"/><circle cx="417.0" cy="532.9" r="1.45"/><circle cx="423.3" cy="532.9" r="1.45"/><circle cx="430.2" cy="532.9" r="1.45"/><circle cx="437.1" cy="545.4" r="1.45"/><circle cx="450.9" cy="532.9" r="1.45"/><circle cx="457.8" cy="545.4" r="1.45"/><circle cx="478.6" cy="545.4" r="1.45"/><circle cx="485.5" cy="532.9" r="1.45"/><circle cx="485.5" cy="545.4" r="1.45"/><circle cx="492.4" cy="532.9" r="1.45"/><circle cx="499.3" cy="532.9" r="1.45"/><circle cx="506.2" cy="539.1" r="1.45"/><circle cx="513.1" cy="545.4" r="1.45"/><circle cx="520.0" cy="532.9" r="1.45"/><circle cx="540.7" cy="545.4" r="1.45"/><circle cx="547.6" cy="539.1" r="1.45"/><circle cx="554.5" cy="545.4" r="1.45"/><circle cx="554.5" cy="532.9" r="1.45"/><circle cx="561.4" cy="545.4" r="1.45"/></g>
<g fill="#af8ed0"><circle cx="29.6" cy="520.4" r="1.45"/><circle cx="126.0" cy="507.8" r="1.45"/><circle cx="140.0" cy="507.8" r="1.45"/><circle cx="147.0" cy="507.8" r="1.45"/><circle cx="161.0" cy="520.4" r="1.45"/><circle cx="202.0" cy="520.4" r="1.45"/><circle cx="215.0" cy="526.6" r="1.45"/><circle cx="229.0" cy="507.8" r="1.45"/><circle cx="278.0" cy="526.6" r="1.45"/><circle cx="304.0" cy="520.4" r="1.45"/><circle cx="319.0" cy="532.9" r="1.45"/><circle cx="340.0" cy="507.8" r="1.45"/><circle cx="361.0" cy="520.4" r="1.45"/><circle cx="375.0" cy="520.4" r="1.45"/><circle cx="382.0" cy="520.4" r="1.45"/><circle cx="388.0" cy="520.4" r="1.45"/><circle cx="417.0" cy="514.1" r="1.45"/><circle cx="423.3" cy="526.6" r="1.45"/><circle cx="430.2" cy="532.9" r="1.45"/><circle cx="437.1" cy="532.9" r="1.45"/><circle cx="437.1" cy="545.4" r="1.45"/><circle cx="471.6" cy="532.9" r="1.45"/><circle cx="485.5" cy="532.9" r="1.45"/><circle cx="485.5" cy="545.4" r="1.45"/><circle cx="492.4" cy="545.4" r="1.45"/><circle cx="499.3" cy="532.9" r="1.45"/><circle cx="506.2" cy="520.4" r="1.45"/><circle cx="513.1" cy="532.9" r="1.45"/><circle cx="520.0" cy="532.9" r="1.45"/><circle cx="540.7" cy="526.6" r="1.45"/><circle cx="547.6" cy="520.4" r="1.45"/><circle cx="547.6" cy="532.9" r="1.45"/><circle cx="554.5" cy="520.4" r="1.45"/><circle cx="554.5" cy="532.9" r="1.45"/><circle cx="561.4" cy="526.6" r="1.45"/><circle cx="568.3" cy="526.6" r="1.45"/><circle cx="575.2" cy="532.9" r="1.45"/><circle cx="582.2" cy="532.9" r="1.45"/><circle cx="596.0" cy="520.4" r="1.45"/><circle cx="602.9" cy="532.9" r="1.45"/><circle cx="609.8" cy="532.9" r="1.45"/><circle cx="609.8" cy="520.4" r="1.45"/><circle cx="644.3" cy="520.4" r="1.45"/><circle cx="651.2" cy="520.4" r="1.45"/><circle cx="665.0" cy="526.6" r="1.45"/><circle cx="672.0" cy="532.9" r="1.45"/><circle cx="692.7" cy="520.4" r="1.45"/><circle cx="692.7" cy="532.9" r="1.45"/><circle cx="706.5" cy="532.9" r="1.45"/><circle cx="713.4" cy="539.1" r="1.45"/><circle cx="720.3" cy="532.9" r="1.45"/><circle cx="720.3" cy="526.6" r="1.45"/><circle cx="727.2" cy="532.9" r="1.45"/><circle cx="734.1" cy="526.6" r="1.45"/><circle cx="734.1" cy="532.9" r="1.45"/><circle cx="741.0" cy="520.4" r="1.45"/><circle cx="741.0" cy="532.9" r="1.45"/><circle cx="741.0" cy="526.6" r="1.45"/><circle cx="747.9" cy="526.6" r="1.45"/><circle cx="747.9" cy="520.4" r="1.45"/><circle cx="754.8" cy="526.6" r="1.45"/><circle cx="761.7" cy="520.4" r="1.45"/><circle cx="761.7" cy="514.1" r="1.45"/><circle cx="768.6" cy="532.9" r="1.45"/><circle cx="768.6" cy="520.4" r="1.45"/><circle cx="775.6" cy="520.4" r="1.45"/><circle cx="782.5" cy="520.4" r="1.45"/><circle cx="782.5" cy="532.9" r="1.45"/><circle cx="789.4" cy="520.4" r="1.45"/><circle cx="789.4" cy="507.8" r="1.45"/><circle cx="796.3" cy="507.8" r="1.45"/><circle cx="796.3" cy="514.1" r="1.45"/><circle cx="803.2" cy="520.4" r="1.45"/></g>
<g fill="#858894"><circle cx="29.6" cy="382.6" r="1.45"/><circle cx="50.0" cy="395.1" r="1.45"/><circle cx="64.0" cy="370.0" r="1.45"/><circle cx="85.0" cy="382.6" r="1.45"/><circle cx="90.0" cy="395.1" r="1.45"/><circle cx="112.0" cy="395.1" r="1.45"/><circle cx="126.0" cy="382.6" r="1.45"/><circle cx="133.0" cy="370.0" r="1.45"/><circle cx="140.0" cy="401.4" r="1.45"/><circle cx="147.0" cy="370.0" r="1.45"/><circle cx="161.0" cy="395.1" r="1.45"/><circle cx="161.0" cy="382.6" r="1.45"/><circle cx="168.0" cy="370.0" r="1.45"/><circle cx="182.0" cy="420.1" r="1.45"/><circle cx="182.0" cy="382.6" r="1.45"/><circle cx="188.0" cy="370.0" r="1.45"/><circle cx="195.0" cy="413.9" r="1.45"/><circle cx="202.0" cy="382.6" r="1.45"/><circle cx="202.0" cy="395.1" r="1.45"/><circle cx="215.0" cy="407.6" r="1.45"/><circle cx="229.0" cy="432.7" r="1.45"/><circle cx="244.0" cy="395.1" r="1.45"/><circle cx="258.0" cy="395.1" r="1.45"/><circle cx="264.0" cy="407.6" r="1.45"/><circle cx="264.0" cy="376.3" r="1.45"/><circle cx="278.0" cy="407.6" r="1.45"/><circle cx="278.0" cy="395.1" r="1.45"/><circle cx="292.0" cy="407.6" r="1.45"/><circle cx="304.0" cy="395.1" r="1.45"/><circle cx="312.0" cy="395.1" r="1.45"/><circle cx="312.0" cy="382.6" r="1.45"/><circle cx="319.0" cy="370.0" r="1.45"/><circle cx="326.0" cy="401.4" r="1.45"/><circle cx="326.0" cy="395.1" r="1.45"/><circle cx="340.0" cy="413.9" r="1.45"/><circle cx="348.0" cy="407.6" r="1.45"/><circle cx="354.0" cy="382.6" r="1.45"/><circle cx="361.0" cy="376.3" r="1.45"/><circle cx="375.0" cy="395.1" r="1.45"/><circle cx="382.0" cy="395.1" r="1.45"/><circle cx="388.0" cy="420.1" r="1.45"/><circle cx="396.0" cy="370.0" r="1.45"/><circle cx="403.0" cy="382.6" r="1.45"/><circle cx="410.0" cy="388.8" r="1.45"/><circle cx="417.0" cy="388.8" r="1.45"/><circle cx="423.3" cy="382.6" r="1.45"/><circle cx="430.2" cy="407.6" r="1.45"/><circle cx="437.1" cy="401.4" r="1.45"/><circle cx="437.1" cy="395.1" r="1.45"/><circle cx="444.0" cy="388.8" r="1.45"/><circle cx="450.9" cy="370.0" r="1.45"/><circle cx="457.8" cy="395.1" r="1.45"/><circle cx="464.7" cy="370.0" r="1.45"/><circle cx="471.6" cy="382.6" r="1.45"/><circle cx="478.6" cy="382.6" r="1.45"/><circle cx="485.5" cy="370.0" r="1.45"/><circle cx="485.5" cy="382.6" r="1.45"/><circle cx="485.5" cy="376.3" r="1.45"/><circle cx="492.4" cy="382.6" r="1.45"/><circle cx="499.3" cy="395.1" r="1.45"/><circle cx="506.2" cy="376.3" r="1.45"/><circle cx="513.1" cy="407.6" r="1.45"/><circle cx="520.0" cy="370.0" r="1.45"/><circle cx="520.0" cy="395.1" r="1.45"/><circle cx="526.9" cy="395.1" r="1.45"/><circle cx="540.7" cy="370.0" r="1.45"/><circle cx="547.6" cy="370.0" r="1.45"/><circle cx="547.6" cy="395.1" r="1.45"/><circle cx="554.5" cy="395.1" r="1.45"/><circle cx="554.5" cy="376.3" r="1.45"/><circle cx="561.4" cy="395.1" r="1.45"/><circle cx="561.4" cy="382.6" r="1.45"/><circle cx="568.3" cy="395.1" r="1.45"/><circle cx="568.3" cy="407.6" r="1.45"/><circle cx="575.2" cy="376.3" r="1.45"/><circle cx="575.2" cy="395.1" r="1.45"/><circle cx="582.2" cy="395.1" r="1.45"/><circle cx="596.0" cy="382.6" r="1.45"/><circle cx="602.9" cy="382.6" r="1.45"/><circle cx="609.8" cy="370.0" r="1.45"/><circle cx="616.7" cy="370.0" r="1.45"/><circle cx="616.7" cy="407.6" r="1.45"/><circle cx="630.5" cy="382.6" r="1.45"/><circle cx="644.3" cy="395.1" r="1.45"/><circle cx="651.2" cy="370.0" r="1.45"/><circle cx="665.0" cy="382.6" r="1.45"/><circle cx="672.0" cy="370.0" r="1.45"/><circle cx="678.9" cy="382.6" r="1.45"/><circle cx="685.8" cy="388.8" r="1.45"/><circle cx="692.7" cy="420.1" r="1.45"/><circle cx="692.7" cy="370.0" r="1.45"/><circle cx="699.6" cy="370.0" r="1.45"/><circle cx="706.5" cy="370.0" r="1.45"/><circle cx="713.4" cy="388.8" r="1.45"/><circle cx="720.3" cy="382.6" r="1.45"/><circle cx="727.2" cy="382.6" r="1.45"/><circle cx="734.1" cy="370.0" r="1.45"/><circle cx="734.1" cy="401.4" r="1.45"/><circle cx="741.0" cy="357.5" r="1.45"/><circle cx="741.0" cy="382.6" r="1.45"/><circle cx="741.0" cy="370.0" r="1.45"/><circle cx="741.0" cy="363.8" r="1.45"/><circle cx="747.9" cy="357.5" r="1.45"/><circle cx="747.9" cy="370.0" r="1.45"/><circle cx="754.8" cy="376.3" r="1.45"/><circle cx="754.8" cy="345.0" r="1.45"/><circle cx="761.7" cy="382.6" r="1.45"/><circle cx="761.7" cy="370.0" r="1.45"/><circle cx="768.6" cy="370.0" r="1.45"/><circle cx="768.6" cy="382.6" r="1.45"/><circle cx="768.6" cy="395.1" r="1.45"/><circle cx="775.6" cy="357.5" r="1.45"/><circle cx="775.6" cy="382.6" r="1.45"/><circle cx="775.6" cy="370.0" r="1.45"/><circle cx="782.5" cy="370.0" r="1.45"/><circle cx="782.5" cy="382.6" r="1.45"/><circle cx="789.4" cy="370.0" r="1.45"/><circle cx="789.4" cy="395.1" r="1.45"/><circle cx="796.3" cy="370.0" r="1.45"/><circle cx="796.3" cy="357.5" r="1.45"/><circle cx="803.2" cy="382.6" r="1.45"/><circle cx="803.2" cy="370.0" r="1.45"/></g>
</g>
<line x1="23.5" x2="823.2" y1="545.4" y2="545.4" stroke="#111" stroke-width="1.3"/>
<line x1="828.5" x2="828.5" y1="44" y2="546" stroke="#1a1a1a" stroke-width="1.15"/>
<g id="final">
<circle cx="817.3" cy="541.1" r="3.4" fill="#b22222"/>
<circle cx="817.3" cy="528.7" r="3.4" fill="#dc2340"/>
<circle cx="817.3" cy="494.3" r="3.4" fill="#c41e3a"/>
<circle cx="817.3" cy="521.2" r="3.4" fill="#ff0000"/>
<circle cx="817.3" cy="528.9" r="3.4" fill="#77ee77"/>
<circle cx="817.3" cy="221.4" r="3.4" fill="#f43068"/>
<circle cx="817.3" cy="525.7" r="3.4" fill="#0cc010"/>
<circle cx="817.3" cy="531.0" r="3.4" fill="#0047ab"/>
<circle cx="817.3" cy="312.8" r="3.4" fill="#ff9c0c"/>
<circle cx="817.3" cy="154.9" r="3.4" fill="#0866cc"/>
<circle cx="817.3" cy="517.5" r="3.4" fill="#8040c0"/>
<circle cx="817.3" cy="414.6" r="3.4" fill="#10348c"/>
</g>
<g id="ylab" text-anchor="end">
<text x="16.8" y="549.6">0</text>
<text x="16.8" y="487.0">5</text>
<text x="16.8" y="424.3">10</text>
<text x="16.8" y="361.7">15</text>
<text x="16.8" y="299.1">20</text>
<text x="16.8" y="236.5">25</text>
<text x="16.8" y="173.8">30</text>
<text x="16.8" y="111.2">35</text>
<text x="16.8" y="48.6">40</text>
</g>
<g id="xlab" text-anchor="end">
<text transform="translate(148.4,561.5) rotate(-30)">2007-01-14</text>
<text transform="translate(245.1,561.5) rotate(-30)">2007-01-28</text>
<text transform="translate(341.8,561.5) rotate(-30)">2007-02-11</text>
<text transform="translate(438.5,561.5) rotate(-30)">2007-02-25</text>
<text transform="translate(535.2,561.5) rotate(-30)">2007-03-11</text>
<text transform="translate(631.9,561.5) rotate(-30)">2007-03-25</text>
<text transform="translate(728.6,561.5) rotate(-30)">2007-04-08</text>
</g>
<g id="bars">
<path d="M828.5 175.5 H828.5 Q830.2 175.5 830.2 177.2 V191.8 Q830.2 193.5 828.5 193.5 H828.5 Z" fill="#b22222"/>
<text x="844.2" y="188.8">0.32</text>
<path d="M828.5 195.5 H837.2 Q839.7 195.5 839.7 198.0 V211.0 Q839.7 213.5 837.2 213.5 H828.5 Z" fill="#dc2340"/>
<text x="853.7" y="208.8">2.06</text>
<path d="M828.5 215.5 H851.8 Q854.3 215.5 854.3 218.0 V231.0 Q854.3 233.5 851.8 233.5 H828.5 Z" fill="#c41e3a"/>
<text x="868.3" y="228.8">4.74</text>
<path d="M828.5 235.5 H840.0 Q842.5 235.5 842.5 238.0 V251.0 Q842.5 253.5 840.0 253.5 H828.5 Z" fill="#ff0000"/>
<text x="856.5" y="248.8">2.58</text>
<path d="M828.5 255.5 H833.2 Q835.7 255.5 835.7 258.0 V271.0 Q835.7 273.5 833.2 273.5 H828.5 Z" fill="#77ee77"/>
<text x="849.7" y="268.8">1.32</text>
<path d="M828.5 275.5 H957.4 Q959.9 275.5 959.9 278.0 V291.0 Q959.9 293.5 957.4 293.5 H828.5 Z" fill="#f43068"/>
<text class="w" text-anchor="end" x="958.2" y="288.8">24.18</text>
<path d="M828.5 295.5 H833.5 Q836.0 295.5 836.0 298.0 V311.0 Q836.0 313.5 833.5 313.5 H828.5 Z" fill="#0cc010"/>
<text x="850.0" y="308.8">1.38</text>
<path d="M828.5 315.5 H834.1 Q836.6 315.5 836.6 318.0 V331.0 Q836.6 333.5 834.1 333.5 H828.5 Z" fill="#0047ab"/>
<text x="850.6" y="328.8">1.50</text>
<path d="M828.5 335.5 H923.7 Q926.2 335.5 926.2 338.0 V351.0 Q926.2 353.5 923.7 353.5 H828.5 Z" fill="#ff9c0c"/>
<text class="w" text-anchor="end" x="924.5" y="348.8">17.98</text>
<path d="M828.5 355.5 H979.0 Q981.5 355.5 981.5 358.0 V371.0 Q981.5 373.5 979.0 373.5 H828.5 Z" fill="#0866cc"/>
<text class="w" text-anchor="end" x="979.8" y="368.8">28.16</text>
<path d="M828.5 375.5 H836.1 Q838.6 375.5 838.6 378.0 V391.0 Q838.6 393.5 836.1 393.5 H828.5 Z" fill="#8040c0"/>
<text x="852.6" y="388.8">1.85</text>
<path d="M828.5 395.5 H901.6 Q904.1 395.5 904.1 398.0 V411.0 Q904.1 413.5 901.6 413.5 H828.5 Z" fill="#10348c"/>
<text class="w" text-anchor="end" x="902.4" y="408.8">13.92</text>
</g>
<g id="rxlab" text-anchor="end">
<text transform="translate(835.4,557.8) rotate(-60)">0</text>
<text transform="translate(862.7,557.8) rotate(-60)">5</text>
<text transform="translate(890.1,557.8) rotate(-60)">10</text>
<text transform="translate(917.4,557.8) rotate(-60)">15</text>
<text transform="translate(944.7,557.8) rotate(-60)">20</text>
<text transform="translate(972.1,557.8) rotate(-60)">25</text>
<text transform="translate(999.4,557.8) rotate(-60)">30</text>
</g>
<text x="828" y="594.5">Final average: 2007-04-20</text>
</svg></body></html>
